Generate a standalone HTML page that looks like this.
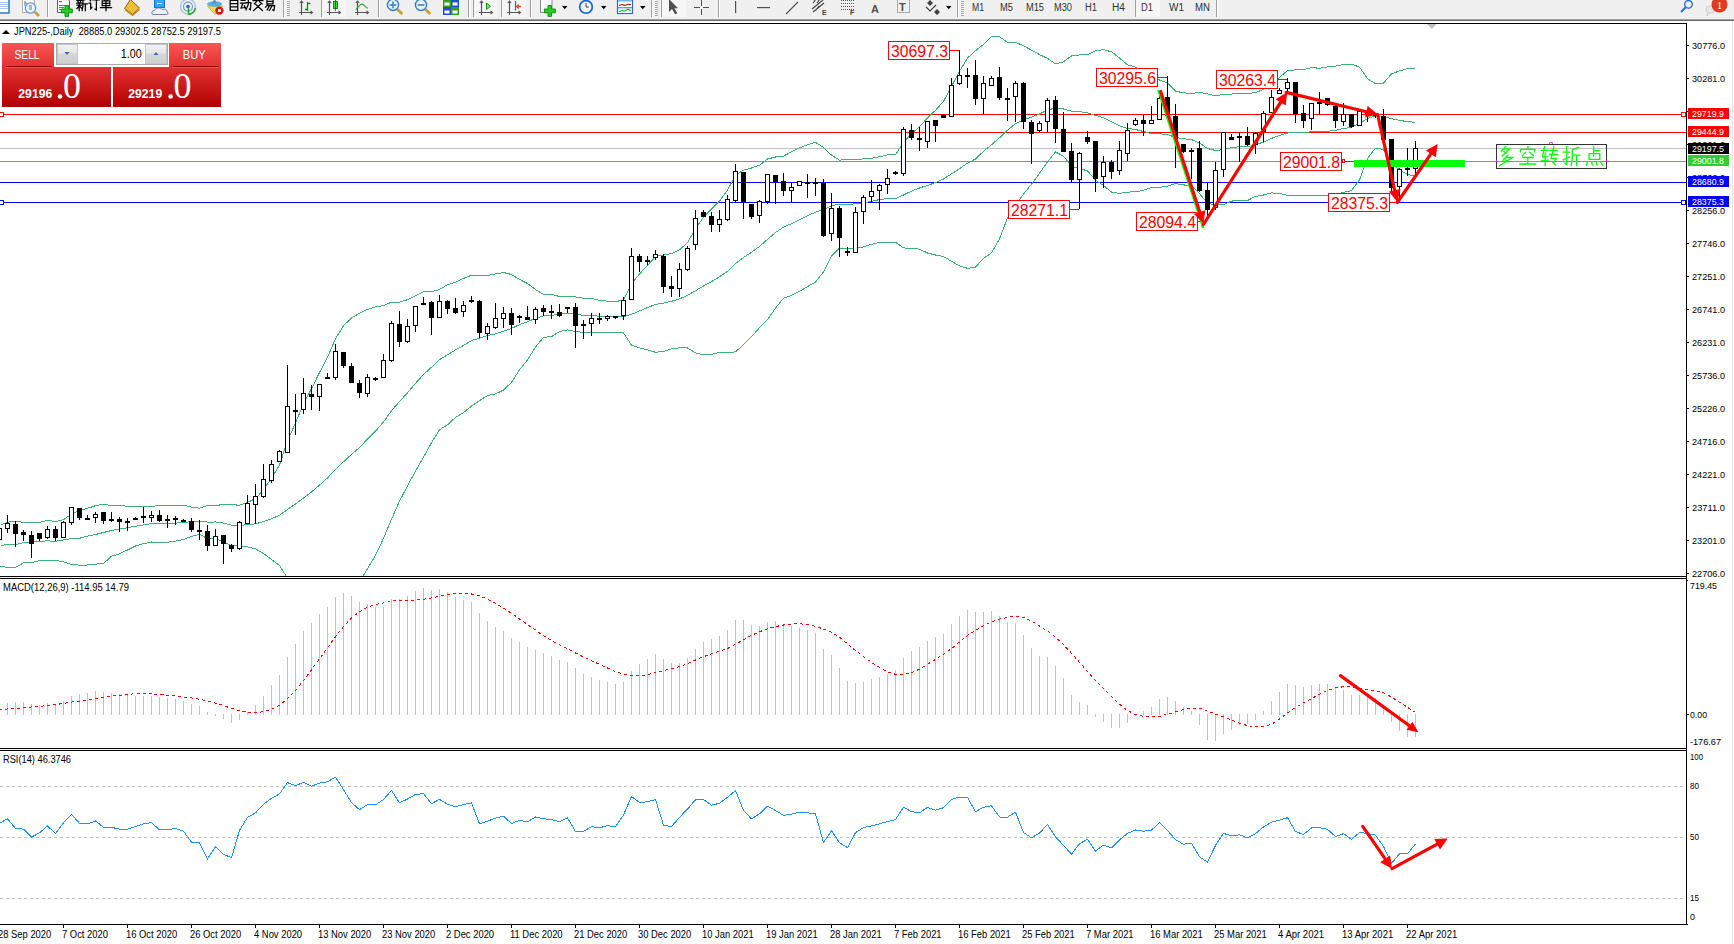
<!DOCTYPE html>
<html><head><meta charset="utf-8"><style>
html,body{margin:0;padding:0;background:#fff;width:1734px;height:944px;overflow:hidden}
</style></head><body>
<svg width="1734" height="944" viewBox="0 0 1734 944" style="position:absolute;left:0;top:0">
<defs><clipPath id="cm"><rect x="0" y="24" width="1686" height="552"/></clipPath><clipPath id="cmacd"><rect x="0" y="579" width="1686" height="169"/></clipPath><clipPath id="crsi"><rect x="0" y="751" width="1686" height="173"/></clipPath></defs>
<g shape-rendering="crispEdges" stroke="#000" stroke-width="1">
<line x1="0" y1="23.5" x2="1687" y2="23.5"/>
<line x1="1686.5" y1="23" x2="1686.5" y2="925"/>
<line x1="0" y1="576.5" x2="1687" y2="576.5"/>
<line x1="0" y1="578.5" x2="1687" y2="578.5"/>
<line x1="0" y1="748.5" x2="1687" y2="748.5"/>
<line x1="0" y1="750.5" x2="1687" y2="750.5"/>
<line x1="0" y1="924.5" x2="1687" y2="924.5"/>
</g>
<g clip-path="url(#cm)">
<g shape-rendering="crispEdges" fill="none" stroke-width="1">
<line x1="0" y1="114.5" x2="1686" y2="114.5" stroke="#ff0000"/>
<line x1="0" y1="132.5" x2="1686" y2="132.5" stroke="#ff0000"/>
<line x1="0" y1="148.5" x2="1686" y2="148.5" stroke="#c0c0c0"/>
<line x1="0" y1="161.5" x2="1686" y2="161.5" stroke="#32cd32"/>
<line x1="0" y1="182.5" x2="1686" y2="182.5" stroke="#0000ff"/>
<line x1="0" y1="202.5" x2="1686" y2="202.5" stroke="#0000ff"/>
<rect x="-0.5" y="112.5" width="4" height="4" fill="#fff" stroke="#ff0000"/>
<rect x="1681.5" y="112.5" width="4" height="4" fill="#fff" stroke="#ff0000"/>
<rect x="-0.5" y="200.5" width="4" height="4" fill="#fff" stroke="#0000ff"/>
<rect x="1681.5" y="200.5" width="4" height="4" fill="#fff" stroke="#0000ff"/>
</g>
<g shape-rendering="auto">
<polyline points="0.5,525.2 7.5,522.2 15.5,521.2 23.5,522.4 31.5,522.4 39.5,522.4 47.5,520.4 55.5,521.6 63.5,519.7 71.5,514.0 79.5,510.4 87.5,508.3 95.5,505.7 103.5,504.3 111.5,505.5 119.5,505.3 127.5,506.4 135.5,506.4 143.5,506.4 151.5,506.4 159.5,505.5 167.5,505.3 175.5,505.1 183.5,505.2 191.5,507.1 199.5,508.3 207.5,505.6 215.5,505.8 223.5,504.2 231.5,504.7 239.5,505.2 247.5,502.4 255.5,498.6 263.5,489.8 271.5,478.1 279.5,465.1 287.5,440.7 295.5,422.9 303.5,403.8 311.5,388.7 319.5,372.6 327.5,357.3 335.5,338.7 343.5,325.7 351.5,318.0 359.5,313.2 367.5,309.4 375.5,306.9 383.5,305.6 391.5,302.1 399.5,302.1 407.5,299.7 415.5,295.6 423.5,291.6 431.5,291.7 439.5,289.5 447.5,284.7 455.5,282.4 463.5,278.4 471.5,275.2 479.5,275.6 487.5,275.5 495.5,273.9 503.5,272.5 511.5,274.5 519.5,279.4 527.5,283.5 535.5,289.6 543.5,294.5 551.5,294.2 559.5,296.6 567.5,296.5 575.5,297.0 583.5,298.3 591.5,298.3 599.5,300.4 607.5,301.2 615.5,301.5 623.5,300.2 631.5,283.7 639.5,274.0 647.5,265.4 655.5,256.6 663.5,254.8 671.5,253.7 679.5,249.9 687.5,242.6 695.5,228.7 703.5,217.1 711.5,209.0 719.5,201.1 727.5,190.0 735.5,175.4 743.5,170.1 751.5,168.0 759.5,165.2 767.5,159.0 775.5,157.0 783.5,156.1 791.5,151.9 799.5,147.9 807.5,144.8 815.5,142.3 823.5,147.5 831.5,155.2 839.5,160.1 847.5,159.6 855.5,159.6 863.5,158.9 871.5,158.2 879.5,156.8 887.5,154.8 895.5,155.0 903.5,142.1 911.5,133.7 919.5,126.8 927.5,117.8 935.5,110.3 943.5,101.4 951.5,86.4 959.5,71.2 967.5,58.1 975.5,50.7 983.5,44.4 991.5,36.8 999.5,36.8 1007.5,42.3 1015.5,42.2 1023.5,45.8 1031.5,50.1 1039.5,54.6 1047.5,58.4 1055.5,63.8 1063.5,61.8 1071.5,55.9 1079.5,54.9 1087.5,54.6 1095.5,50.6 1103.5,49.7 1111.5,51.8 1119.5,58.0 1127.5,64.8 1135.5,67.1 1143.5,72.8 1151.5,79.8 1159.5,80.0 1167.5,82.8 1175.5,91.2 1183.5,92.8 1191.5,93.4 1199.5,92.4 1207.5,93.9 1215.5,96.0 1223.5,94.4 1231.5,94.1 1239.5,93.1 1247.5,93.3 1255.5,92.8 1263.5,89.2 1271.5,83.9 1279.5,77.4 1287.5,70.6 1295.5,69.9 1303.5,69.7 1311.5,67.7 1319.5,68.2 1327.5,67.0 1335.5,66.1 1343.5,64.6 1351.5,64.2 1359.5,67.1 1367.5,78.7 1375.5,83.7 1383.5,83.1 1391.5,73.9 1399.5,70.9 1407.5,68.7 1415.5,68.4" fill="none" stroke="#3cb371" stroke-width="1" shape-rendering="crispEdges" />
<polyline points="0.5,545.4 7.5,544.6 15.5,544.6 23.5,542.7 31.5,542.1 39.5,541.2 47.5,540.9 55.5,541.2 63.5,539.9 71.5,538.6 79.5,538.3 87.5,536.1 95.5,534.5 103.5,532.5 111.5,530.5 119.5,529.1 127.5,527.7 135.5,526.3 143.5,524.9 151.5,523.6 159.5,523.9 167.5,523.8 175.5,523.1 183.5,522.4 191.5,521.7 199.5,521.3 207.5,522.1 215.5,522.0 223.5,523.1 231.5,525.2 239.5,525.4 247.5,524.7 255.5,523.8 263.5,521.7 271.5,518.8 279.5,515.3 287.5,509.5 295.5,504.0 303.5,497.9 311.5,492.0 319.5,485.1 327.5,477.9 335.5,469.5 343.5,461.8 351.5,454.4 359.5,447.5 367.5,439.1 375.5,431.2 383.5,421.9 391.5,410.7 399.5,401.6 407.5,392.8 415.5,383.3 423.5,374.5 431.5,367.2 439.5,359.7 447.5,354.8 455.5,349.9 463.5,345.5 471.5,340.6 479.5,338.1 487.5,335.6 495.5,333.9 503.5,331.3 511.5,328.4 519.5,324.6 527.5,321.7 535.5,318.3 543.5,315.9 551.5,315.4 559.5,314.1 567.5,313.2 575.5,314.2 583.5,315.4 591.5,315.4 599.5,316.3 607.5,316.7 615.5,316.9 623.5,316.6 631.5,314.4 639.5,310.9 647.5,307.6 655.5,304.4 663.5,303.1 671.5,301.3 679.5,298.9 687.5,295.3 695.5,290.7 703.5,286.0 711.5,281.6 719.5,276.8 727.5,271.3 735.5,263.6 743.5,257.4 751.5,252.3 759.5,246.4 767.5,239.3 775.5,232.5 783.5,227.1 791.5,223.7 799.5,219.6 807.5,215.7 815.5,212.2 823.5,209.7 831.5,205.6 839.5,204.1 847.5,204.2 855.5,203.9 863.5,202.9 871.5,201.3 879.5,199.6 887.5,198.5 895.5,198.6 903.5,195.0 911.5,191.1 919.5,188.0 927.5,185.4 935.5,182.6 943.5,179.0 951.5,173.9 959.5,168.6 967.5,163.2 975.5,159.0 983.5,151.3 991.5,144.8 999.5,137.8 1007.5,130.2 1015.5,123.7 1023.5,120.0 1031.5,117.1 1039.5,114.0 1047.5,110.1 1055.5,107.9 1063.5,109.0 1071.5,111.1 1079.5,111.7 1087.5,112.7 1095.5,115.4 1103.5,117.6 1111.5,121.9 1119.5,125.7 1127.5,128.4 1135.5,129.5 1143.5,131.5 1151.5,133.6 1159.5,133.7 1167.5,134.6 1175.5,137.4 1183.5,138.8 1191.5,139.6 1199.5,143.0 1207.5,148.5 1215.5,150.5 1223.5,149.6 1231.5,147.6 1239.5,146.7 1247.5,146.9 1255.5,144.6 1263.5,142.1 1271.5,138.4 1279.5,135.4 1287.5,133.0 1295.5,132.7 1303.5,132.6 1311.5,131.7 1319.5,131.9 1327.5,131.3 1335.5,130.4 1343.5,128.5 1351.5,127.4 1359.5,123.4 1367.5,118.5 1375.5,115.9 1383.5,116.3 1391.5,118.7 1399.5,120.4 1407.5,121.6 1415.5,122.3" fill="none" stroke="#3cb371" stroke-width="1" shape-rendering="crispEdges" />
<polyline points="0.5,566.5 7.5,567.3 15.5,567.3 23.5,562.9 31.5,562.6 39.5,560.5 47.5,560.5 55.5,560.5 63.5,561.8 71.5,564.4 79.5,565.2 87.5,565.0 95.5,564.1 103.5,563.4 111.5,556.3 119.5,553.8 127.5,550.0 135.5,546.0 143.5,543.7 151.5,542.0 159.5,542.4 167.5,542.3 175.5,541.1 183.5,539.6 191.5,536.3 199.5,534.3 207.5,538.6 215.5,538.2 223.5,542.0 231.5,545.7 239.5,545.7 247.5,546.9 255.5,548.9 263.5,553.6 271.5,559.6 279.5,565.4 287.5,578.3 295.5,585.1 303.5,591.9 311.5,595.3 319.5,597.7 327.5,598.6 335.5,600.4 343.5,597.8 351.5,590.8 359.5,581.8 367.5,568.8 375.5,555.4 383.5,538.3 391.5,519.2 399.5,501.2 407.5,485.9 415.5,471.0 423.5,457.3 431.5,442.7 439.5,429.8 447.5,424.8 455.5,417.4 463.5,412.6 471.5,406.1 479.5,400.6 487.5,395.6 495.5,393.9 503.5,390.1 511.5,382.3 519.5,369.8 527.5,360.0 535.5,347.1 543.5,337.4 551.5,336.6 559.5,331.6 567.5,329.9 575.5,331.4 583.5,332.4 591.5,332.5 599.5,332.2 607.5,332.2 615.5,332.3 623.5,333.0 631.5,345.1 639.5,347.8 647.5,349.9 655.5,352.3 663.5,351.4 671.5,348.9 679.5,347.8 687.5,348.0 695.5,352.8 703.5,354.9 711.5,354.3 719.5,352.5 727.5,352.7 735.5,351.9 743.5,344.8 751.5,336.7 759.5,327.7 767.5,319.7 775.5,308.1 783.5,298.1 791.5,295.4 799.5,291.3 807.5,286.6 815.5,282.1 823.5,271.8 831.5,256.1 839.5,248.0 847.5,248.9 855.5,248.3 863.5,246.9 871.5,244.3 879.5,242.3 887.5,242.3 895.5,242.2 903.5,247.9 911.5,248.4 919.5,249.2 927.5,253.0 935.5,255.0 943.5,256.5 951.5,261.3 959.5,265.9 967.5,268.3 975.5,267.2 983.5,258.3 991.5,252.9 999.5,238.9 1007.5,218.0 1015.5,205.2 1023.5,194.2 1031.5,184.1 1039.5,173.4 1047.5,161.8 1055.5,151.9 1063.5,156.2 1071.5,166.2 1079.5,168.5 1087.5,170.9 1095.5,180.1 1103.5,185.5 1111.5,192.0 1119.5,193.4 1127.5,192.1 1135.5,191.8 1143.5,190.3 1151.5,187.4 1159.5,187.3 1167.5,186.3 1175.5,183.5 1183.5,184.9 1191.5,185.8 1199.5,193.6 1207.5,203.1 1215.5,205.1 1223.5,204.7 1231.5,201.1 1239.5,200.4 1247.5,200.5 1255.5,196.4 1263.5,195.0 1271.5,192.9 1279.5,193.4 1287.5,195.4 1295.5,195.4 1303.5,195.4 1311.5,195.6 1319.5,195.5 1327.5,195.6 1335.5,194.8 1343.5,192.4 1351.5,190.6 1359.5,179.8 1367.5,158.4 1375.5,148.1 1383.5,149.5 1391.5,163.5 1399.5,169.8 1407.5,174.5 1415.5,176.3" fill="none" stroke="#3cb371" stroke-width="1" shape-rendering="crispEdges" />
</g>
<g shape-rendering="crispEdges">
<rect x="-1" y="528" width="1" height="13" fill="#000"/>
<rect x="-2.5" y="528.5" width="4" height="11" fill="#fff" stroke="#000"/>
<rect x="7" y="515" width="1" height="18" fill="#000"/>
<rect x="5.5" y="523.5" width="4" height="5" fill="#fff" stroke="#000"/>
<rect x="15" y="521" width="1" height="26" fill="#000"/>
<rect x="13" y="524" width="5" height="10" fill="#000"/>
<rect x="23" y="530" width="1" height="11" fill="#000"/>
<rect x="21" y="532" width="5" height="3" fill="#000"/>
<rect x="31" y="531" width="1" height="27" fill="#000"/>
<rect x="29" y="535" width="5" height="9" fill="#000"/>
<rect x="39" y="533" width="1" height="8" fill="#000"/>
<rect x="37" y="533" width="5" height="6" fill="#000"/>
<rect x="47" y="526" width="1" height="13" fill="#000"/>
<rect x="45.5" y="529.5" width="4" height="8" fill="#fff" stroke="#000"/>
<rect x="55" y="526" width="1" height="15" fill="#000"/>
<rect x="53" y="529" width="5" height="9" fill="#000"/>
<rect x="63" y="521" width="1" height="17" fill="#000"/>
<rect x="61.5" y="522.5" width="4" height="15" fill="#fff" stroke="#000"/>
<rect x="71" y="507" width="1" height="18" fill="#000"/>
<rect x="69.5" y="507.5" width="4" height="15" fill="#fff" stroke="#000"/>
<rect x="79" y="508" width="1" height="12" fill="#000"/>
<rect x="77" y="508" width="5" height="10" fill="#000"/>
<rect x="87" y="515" width="1" height="5" fill="#000"/>
<rect x="85" y="518" width="5" height="2" fill="#000"/>
<rect x="95" y="512" width="1" height="11" fill="#000"/>
<rect x="93.5" y="514.5" width="4" height="3" fill="#fff" stroke="#000"/>
<rect x="103" y="512" width="1" height="12" fill="#000"/>
<rect x="101" y="512" width="5" height="9" fill="#000"/>
<rect x="111" y="512" width="1" height="10" fill="#000"/>
<rect x="109" y="519" width="5" height="2" fill="#000"/>
<rect x="119" y="517" width="1" height="15" fill="#000"/>
<rect x="117" y="519" width="5" height="3" fill="#000"/>
<rect x="127" y="518" width="1" height="13" fill="#000"/>
<rect x="125" y="521" width="5" height="2" fill="#000"/>
<rect x="135" y="517" width="1" height="3" fill="#000"/>
<rect x="133" y="518" width="5" height="2" fill="#000"/>
<rect x="143" y="507" width="1" height="16" fill="#000"/>
<rect x="141" y="516" width="5" height="2" fill="#000"/>
<rect x="151" y="511" width="1" height="11" fill="#000"/>
<rect x="149.5" y="515.5" width="4" height="2" fill="#fff" stroke="#000"/>
<rect x="159" y="510" width="1" height="12" fill="#000"/>
<rect x="157" y="515" width="5" height="6" fill="#000"/>
<rect x="167" y="515" width="1" height="13" fill="#000"/>
<rect x="165" y="519" width="5" height="2" fill="#000"/>
<rect x="175" y="516" width="1" height="9" fill="#000"/>
<rect x="173" y="518" width="5" height="2" fill="#000"/>
<rect x="183" y="519" width="1" height="3" fill="#000"/>
<rect x="181" y="520" width="5" height="2" fill="#000"/>
<rect x="191" y="518" width="1" height="14" fill="#000"/>
<rect x="189" y="521" width="5" height="9" fill="#000"/>
<rect x="199" y="520" width="1" height="20" fill="#000"/>
<rect x="197" y="530" width="5" height="2" fill="#000"/>
<rect x="207" y="525" width="1" height="26" fill="#000"/>
<rect x="205" y="531" width="5" height="15" fill="#000"/>
<rect x="215" y="529" width="1" height="17" fill="#000"/>
<rect x="213.5" y="536.5" width="4" height="9" fill="#fff" stroke="#000"/>
<rect x="223" y="535" width="1" height="29" fill="#000"/>
<rect x="221" y="535" width="5" height="9" fill="#000"/>
<rect x="231" y="544" width="1" height="8" fill="#000"/>
<rect x="229" y="545" width="5" height="4" fill="#000"/>
<rect x="239" y="521" width="1" height="29" fill="#000"/>
<rect x="237.5" y="522.5" width="4" height="26" fill="#fff" stroke="#000"/>
<rect x="247" y="495" width="1" height="29" fill="#000"/>
<rect x="245.5" y="503.5" width="4" height="20" fill="#fff" stroke="#000"/>
<rect x="255" y="484" width="1" height="40" fill="#000"/>
<rect x="253.5" y="496.5" width="4" height="8" fill="#fff" stroke="#000"/>
<rect x="263" y="464" width="1" height="34" fill="#000"/>
<rect x="261.5" y="479.5" width="4" height="17" fill="#fff" stroke="#000"/>
<rect x="271" y="460" width="1" height="23" fill="#000"/>
<rect x="269.5" y="464.5" width="4" height="16" fill="#fff" stroke="#000"/>
<rect x="279" y="450" width="1" height="12" fill="#000"/>
<rect x="277.5" y="451.5" width="4" height="10" fill="#fff" stroke="#000"/>
<rect x="287" y="365" width="1" height="88" fill="#000"/>
<rect x="285.5" y="406.5" width="4" height="46" fill="#fff" stroke="#000"/>
<rect x="295" y="394" width="1" height="41" fill="#000"/>
<rect x="293" y="410" width="5" height="2" fill="#000"/>
<rect x="303" y="378" width="1" height="36" fill="#000"/>
<rect x="301.5" y="393.5" width="4" height="16" fill="#fff" stroke="#000"/>
<rect x="311" y="385" width="1" height="25" fill="#000"/>
<rect x="309" y="394" width="5" height="3" fill="#000"/>
<rect x="319" y="384" width="1" height="27" fill="#000"/>
<rect x="317.5" y="384.5" width="4" height="12" fill="#fff" stroke="#000"/>
<rect x="327" y="373" width="1" height="6" fill="#000"/>
<rect x="325" y="377" width="5" height="2" fill="#000"/>
<rect x="335" y="344" width="1" height="36" fill="#000"/>
<rect x="333.5" y="351.5" width="4" height="26" fill="#fff" stroke="#000"/>
<rect x="343" y="352" width="1" height="16" fill="#000"/>
<rect x="341" y="352" width="5" height="14" fill="#000"/>
<rect x="351" y="363" width="1" height="20" fill="#000"/>
<rect x="349" y="366" width="5" height="17" fill="#000"/>
<rect x="359" y="380" width="1" height="18" fill="#000"/>
<rect x="357" y="383" width="5" height="10" fill="#000"/>
<rect x="367" y="374" width="1" height="23" fill="#000"/>
<rect x="365.5" y="377.5" width="4" height="16" fill="#fff" stroke="#000"/>
<rect x="375" y="377" width="1" height="4" fill="#000"/>
<rect x="373" y="378" width="5" height="2" fill="#000"/>
<rect x="383" y="354" width="1" height="24" fill="#000"/>
<rect x="381.5" y="360.5" width="4" height="17" fill="#fff" stroke="#000"/>
<rect x="391" y="321" width="1" height="41" fill="#000"/>
<rect x="389.5" y="323.5" width="4" height="37" fill="#fff" stroke="#000"/>
<rect x="399" y="311" width="1" height="36" fill="#000"/>
<rect x="397" y="324" width="5" height="18" fill="#000"/>
<rect x="407" y="319" width="1" height="24" fill="#000"/>
<rect x="405.5" y="326.5" width="4" height="15" fill="#fff" stroke="#000"/>
<rect x="415" y="306" width="1" height="26" fill="#000"/>
<rect x="413.5" y="306.5" width="4" height="19" fill="#fff" stroke="#000"/>
<rect x="423" y="297" width="1" height="7" fill="#000"/>
<rect x="421" y="303" width="5" height="2" fill="#000"/>
<rect x="431" y="301" width="1" height="34" fill="#000"/>
<rect x="429" y="302" width="5" height="16" fill="#000"/>
<rect x="439" y="295" width="1" height="23" fill="#000"/>
<rect x="437.5" y="301.5" width="4" height="16" fill="#fff" stroke="#000"/>
<rect x="447" y="300" width="1" height="14" fill="#000"/>
<rect x="445" y="301" width="5" height="8" fill="#000"/>
<rect x="455" y="298" width="1" height="16" fill="#000"/>
<rect x="453" y="308" width="5" height="5" fill="#000"/>
<rect x="463" y="301" width="1" height="16" fill="#000"/>
<rect x="461.5" y="305.5" width="4" height="6" fill="#fff" stroke="#000"/>
<rect x="471" y="296" width="1" height="7" fill="#000"/>
<rect x="469" y="300" width="5" height="2" fill="#000"/>
<rect x="479" y="300" width="1" height="38" fill="#000"/>
<rect x="477" y="301" width="5" height="32" fill="#000"/>
<rect x="487" y="323" width="1" height="17" fill="#000"/>
<rect x="485.5" y="326.5" width="4" height="7" fill="#fff" stroke="#000"/>
<rect x="495" y="303" width="1" height="26" fill="#000"/>
<rect x="493.5" y="318.5" width="4" height="9" fill="#fff" stroke="#000"/>
<rect x="503" y="307" width="1" height="21" fill="#000"/>
<rect x="501.5" y="313.5" width="4" height="5" fill="#fff" stroke="#000"/>
<rect x="511" y="308" width="1" height="27" fill="#000"/>
<rect x="509" y="313" width="5" height="12" fill="#000"/>
<rect x="519" y="315" width="1" height="8" fill="#000"/>
<rect x="517" y="316" width="5" height="2" fill="#000"/>
<rect x="527" y="306" width="1" height="14" fill="#000"/>
<rect x="525" y="317" width="5" height="3" fill="#000"/>
<rect x="535" y="307" width="1" height="17" fill="#000"/>
<rect x="533.5" y="309.5" width="4" height="10" fill="#fff" stroke="#000"/>
<rect x="543" y="305" width="1" height="11" fill="#000"/>
<rect x="541" y="308" width="5" height="4" fill="#000"/>
<rect x="551" y="305" width="1" height="14" fill="#000"/>
<rect x="549" y="311" width="5" height="2" fill="#000"/>
<rect x="559" y="304" width="1" height="13" fill="#000"/>
<rect x="557" y="312" width="5" height="4" fill="#000"/>
<rect x="567" y="307" width="1" height="6" fill="#000"/>
<rect x="565" y="307" width="5" height="2" fill="#000"/>
<rect x="575" y="303" width="1" height="45" fill="#000"/>
<rect x="573" y="307" width="5" height="19" fill="#000"/>
<rect x="583" y="320" width="1" height="19" fill="#000"/>
<rect x="581" y="324" width="5" height="2" fill="#000"/>
<rect x="591" y="313" width="1" height="23" fill="#000"/>
<rect x="589.5" y="318.5" width="4" height="5" fill="#fff" stroke="#000"/>
<rect x="599" y="313" width="1" height="11" fill="#000"/>
<rect x="597" y="318" width="5" height="2" fill="#000"/>
<rect x="607" y="315" width="1" height="6" fill="#000"/>
<rect x="605.5" y="316.5" width="4" height="2" fill="#fff" stroke="#000"/>
<rect x="615" y="316" width="1" height="3" fill="#000"/>
<rect x="613" y="316" width="5" height="2" fill="#000"/>
<rect x="623" y="297" width="1" height="23" fill="#000"/>
<rect x="621.5" y="300.5" width="4" height="15" fill="#fff" stroke="#000"/>
<rect x="631" y="248" width="1" height="52" fill="#000"/>
<rect x="629.5" y="256.5" width="4" height="43" fill="#fff" stroke="#000"/>
<rect x="639" y="254" width="1" height="18" fill="#000"/>
<rect x="637" y="256" width="5" height="6" fill="#000"/>
<rect x="647" y="256" width="1" height="9" fill="#000"/>
<rect x="645" y="260" width="5" height="2" fill="#000"/>
<rect x="655" y="250" width="1" height="10" fill="#000"/>
<rect x="653.5" y="254.5" width="4" height="3" fill="#fff" stroke="#000"/>
<rect x="663" y="254" width="1" height="39" fill="#000"/>
<rect x="661" y="256" width="5" height="31" fill="#000"/>
<rect x="671" y="276" width="1" height="21" fill="#000"/>
<rect x="669" y="286" width="5" height="3" fill="#000"/>
<rect x="679" y="263" width="1" height="34" fill="#000"/>
<rect x="677.5" y="269.5" width="4" height="19" fill="#fff" stroke="#000"/>
<rect x="687" y="246" width="1" height="25" fill="#000"/>
<rect x="685.5" y="248.5" width="4" height="21" fill="#fff" stroke="#000"/>
<rect x="695" y="210" width="1" height="40" fill="#000"/>
<rect x="693.5" y="218.5" width="4" height="26" fill="#fff" stroke="#000"/>
<rect x="703" y="210" width="1" height="7" fill="#000"/>
<rect x="701" y="212" width="5" height="5" fill="#000"/>
<rect x="711" y="212" width="1" height="20" fill="#000"/>
<rect x="709" y="216" width="5" height="9" fill="#000"/>
<rect x="719" y="210" width="1" height="22" fill="#000"/>
<rect x="717.5" y="219.5" width="4" height="5" fill="#fff" stroke="#000"/>
<rect x="727" y="195" width="1" height="26" fill="#000"/>
<rect x="725.5" y="199.5" width="4" height="20" fill="#fff" stroke="#000"/>
<rect x="735" y="164" width="1" height="39" fill="#000"/>
<rect x="733.5" y="171.5" width="4" height="29" fill="#fff" stroke="#000"/>
<rect x="743" y="172" width="1" height="47" fill="#000"/>
<rect x="741" y="172" width="5" height="30" fill="#000"/>
<rect x="751" y="204" width="1" height="15" fill="#000"/>
<rect x="749" y="204" width="5" height="13" fill="#000"/>
<rect x="759" y="200" width="1" height="23" fill="#000"/>
<rect x="757.5" y="201.5" width="4" height="14" fill="#fff" stroke="#000"/>
<rect x="767" y="174" width="1" height="30" fill="#000"/>
<rect x="765.5" y="174.5" width="4" height="27" fill="#fff" stroke="#000"/>
<rect x="775" y="175" width="1" height="29" fill="#000"/>
<rect x="773" y="175" width="5" height="7" fill="#000"/>
<rect x="783" y="173" width="1" height="23" fill="#000"/>
<rect x="781" y="181" width="5" height="10" fill="#000"/>
<rect x="791" y="183" width="1" height="20" fill="#000"/>
<rect x="789.5" y="187.5" width="4" height="3" fill="#fff" stroke="#000"/>
<rect x="799" y="181" width="1" height="5" fill="#000"/>
<rect x="797.5" y="181.5" width="4" height="4" fill="#fff" stroke="#000"/>
<rect x="807" y="174" width="1" height="24" fill="#000"/>
<rect x="805" y="182" width="5" height="2" fill="#000"/>
<rect x="815" y="178" width="1" height="18" fill="#000"/>
<rect x="813" y="182" width="5" height="2" fill="#000"/>
<rect x="823" y="179" width="1" height="58" fill="#000"/>
<rect x="821" y="183" width="5" height="53" fill="#000"/>
<rect x="831" y="193" width="1" height="48" fill="#000"/>
<rect x="829.5" y="208.5" width="4" height="25" fill="#fff" stroke="#000"/>
<rect x="839" y="206" width="1" height="51" fill="#000"/>
<rect x="837" y="208" width="5" height="30" fill="#000"/>
<rect x="847" y="247" width="1" height="9" fill="#000"/>
<rect x="845" y="251" width="5" height="2" fill="#000"/>
<rect x="855" y="207" width="1" height="46" fill="#000"/>
<rect x="853.5" y="212.5" width="4" height="40" fill="#fff" stroke="#000"/>
<rect x="863" y="195" width="1" height="29" fill="#000"/>
<rect x="861.5" y="197.5" width="4" height="14" fill="#fff" stroke="#000"/>
<rect x="871" y="180" width="1" height="22" fill="#000"/>
<rect x="869.5" y="191.5" width="4" height="5" fill="#fff" stroke="#000"/>
<rect x="879" y="184" width="1" height="26" fill="#000"/>
<rect x="877.5" y="185.5" width="4" height="5" fill="#fff" stroke="#000"/>
<rect x="887" y="169" width="1" height="25" fill="#000"/>
<rect x="885.5" y="178.5" width="4" height="6" fill="#fff" stroke="#000"/>
<rect x="895" y="171" width="1" height="4" fill="#000"/>
<rect x="893" y="172" width="5" height="2" fill="#000"/>
<rect x="903" y="127" width="1" height="49" fill="#000"/>
<rect x="901.5" y="129.5" width="4" height="44" fill="#fff" stroke="#000"/>
<rect x="911" y="124" width="1" height="16" fill="#000"/>
<rect x="909" y="130" width="5" height="8" fill="#000"/>
<rect x="919" y="127" width="1" height="24" fill="#000"/>
<rect x="917" y="138" width="5" height="2" fill="#000"/>
<rect x="927" y="121" width="1" height="27" fill="#000"/>
<rect x="925.5" y="121.5" width="4" height="20" fill="#fff" stroke="#000"/>
<rect x="935" y="120" width="1" height="22" fill="#000"/>
<rect x="933" y="120" width="5" height="6" fill="#000"/>
<rect x="943" y="114" width="1" height="4" fill="#000"/>
<rect x="941" y="115" width="5" height="3" fill="#000"/>
<rect x="951" y="78" width="1" height="39" fill="#000"/>
<rect x="949.5" y="85.5" width="4" height="31" fill="#fff" stroke="#000"/>
<rect x="959" y="50" width="1" height="35" fill="#000"/>
<rect x="957.5" y="75.5" width="4" height="8" fill="#fff" stroke="#000"/>
<rect x="967" y="68" width="1" height="20" fill="#000"/>
<rect x="965" y="75" width="5" height="2" fill="#000"/>
<rect x="975" y="60" width="1" height="45" fill="#000"/>
<rect x="973" y="75" width="5" height="24" fill="#000"/>
<rect x="983" y="76" width="1" height="38" fill="#000"/>
<rect x="981.5" y="83.5" width="4" height="15" fill="#fff" stroke="#000"/>
<rect x="991" y="76" width="1" height="10" fill="#000"/>
<rect x="989.5" y="78.5" width="4" height="7" fill="#fff" stroke="#000"/>
<rect x="999" y="67" width="1" height="33" fill="#000"/>
<rect x="997" y="77" width="5" height="21" fill="#000"/>
<rect x="1007" y="88" width="1" height="33" fill="#000"/>
<rect x="1005" y="98" width="5" height="2" fill="#000"/>
<rect x="1015" y="81" width="1" height="41" fill="#000"/>
<rect x="1013.5" y="83.5" width="4" height="13" fill="#fff" stroke="#000"/>
<rect x="1023" y="82" width="1" height="47" fill="#000"/>
<rect x="1021" y="83" width="5" height="39" fill="#000"/>
<rect x="1031" y="120" width="1" height="44" fill="#000"/>
<rect x="1029" y="122" width="5" height="12" fill="#000"/>
<rect x="1039" y="121" width="1" height="11" fill="#000"/>
<rect x="1037.5" y="123.5" width="4" height="7" fill="#fff" stroke="#000"/>
<rect x="1047" y="98" width="1" height="34" fill="#000"/>
<rect x="1045.5" y="100.5" width="4" height="21" fill="#fff" stroke="#000"/>
<rect x="1055" y="96" width="1" height="47" fill="#000"/>
<rect x="1053" y="100" width="5" height="29" fill="#000"/>
<rect x="1063" y="112" width="1" height="40" fill="#000"/>
<rect x="1061" y="129" width="5" height="23" fill="#000"/>
<rect x="1071" y="143" width="1" height="39" fill="#000"/>
<rect x="1069" y="151" width="5" height="29" fill="#000"/>
<rect x="1079" y="152" width="1" height="57" fill="#000"/>
<rect x="1077.5" y="153.5" width="4" height="26" fill="#fff" stroke="#000"/>
<rect x="1087" y="131" width="1" height="13" fill="#000"/>
<rect x="1085" y="137" width="5" height="5" fill="#000"/>
<rect x="1095" y="141" width="1" height="51" fill="#000"/>
<rect x="1093" y="141" width="5" height="38" fill="#000"/>
<rect x="1103" y="156" width="1" height="32" fill="#000"/>
<rect x="1101.5" y="162.5" width="4" height="14" fill="#fff" stroke="#000"/>
<rect x="1111" y="160" width="1" height="19" fill="#000"/>
<rect x="1109" y="162" width="5" height="10" fill="#000"/>
<rect x="1119" y="141" width="1" height="34" fill="#000"/>
<rect x="1117.5" y="150.5" width="4" height="20" fill="#fff" stroke="#000"/>
<rect x="1127" y="123" width="1" height="38" fill="#000"/>
<rect x="1125.5" y="130.5" width="4" height="23" fill="#fff" stroke="#000"/>
<rect x="1135" y="118" width="1" height="8" fill="#000"/>
<rect x="1133.5" y="120.5" width="4" height="4" fill="#fff" stroke="#000"/>
<rect x="1143" y="115" width="1" height="21" fill="#000"/>
<rect x="1141" y="120" width="5" height="4" fill="#000"/>
<rect x="1151" y="106" width="1" height="18" fill="#000"/>
<rect x="1149.5" y="120.5" width="4" height="3" fill="#fff" stroke="#000"/>
<rect x="1159" y="91" width="1" height="29" fill="#000"/>
<rect x="1157.5" y="98.5" width="4" height="21" fill="#fff" stroke="#000"/>
<rect x="1167" y="76" width="1" height="41" fill="#000"/>
<rect x="1165" y="97" width="5" height="19" fill="#000"/>
<rect x="1175" y="104" width="1" height="64" fill="#000"/>
<rect x="1173" y="116" width="5" height="23" fill="#000"/>
<rect x="1183" y="144" width="1" height="9" fill="#000"/>
<rect x="1181" y="144" width="5" height="8" fill="#000"/>
<rect x="1191" y="148" width="1" height="31" fill="#000"/>
<rect x="1189" y="150" width="5" height="2" fill="#000"/>
<rect x="1199" y="141" width="1" height="51" fill="#000"/>
<rect x="1197" y="148" width="5" height="43" fill="#000"/>
<rect x="1207" y="183" width="1" height="37" fill="#000"/>
<rect x="1205" y="190" width="5" height="20" fill="#000"/>
<rect x="1215" y="162" width="1" height="48" fill="#000"/>
<rect x="1213.5" y="170.5" width="4" height="37" fill="#fff" stroke="#000"/>
<rect x="1223" y="132" width="1" height="45" fill="#000"/>
<rect x="1221.5" y="132.5" width="4" height="37" fill="#fff" stroke="#000"/>
<rect x="1231" y="134" width="1" height="6" fill="#000"/>
<rect x="1229" y="137" width="5" height="3" fill="#000"/>
<rect x="1239" y="132" width="1" height="30" fill="#000"/>
<rect x="1237" y="136" width="5" height="2" fill="#000"/>
<rect x="1247" y="127" width="1" height="19" fill="#000"/>
<rect x="1245" y="136" width="5" height="9" fill="#000"/>
<rect x="1255" y="132" width="1" height="22" fill="#000"/>
<rect x="1253.5" y="133.5" width="4" height="11" fill="#fff" stroke="#000"/>
<rect x="1263" y="111" width="1" height="31" fill="#000"/>
<rect x="1261.5" y="113.5" width="4" height="18" fill="#fff" stroke="#000"/>
<rect x="1271" y="90" width="1" height="23" fill="#000"/>
<rect x="1269.5" y="97.5" width="4" height="15" fill="#fff" stroke="#000"/>
<rect x="1279" y="88" width="1" height="6" fill="#000"/>
<rect x="1277.5" y="90.5" width="4" height="3" fill="#fff" stroke="#000"/>
<rect x="1287" y="78" width="1" height="14" fill="#000"/>
<rect x="1285.5" y="82.5" width="4" height="6" fill="#fff" stroke="#000"/>
<rect x="1295" y="82" width="1" height="41" fill="#000"/>
<rect x="1293" y="82" width="5" height="32" fill="#000"/>
<rect x="1303" y="105" width="1" height="23" fill="#000"/>
<rect x="1301" y="113" width="5" height="8" fill="#000"/>
<rect x="1311" y="103" width="1" height="27" fill="#000"/>
<rect x="1309.5" y="103.5" width="4" height="15" fill="#fff" stroke="#000"/>
<rect x="1319" y="92" width="1" height="22" fill="#000"/>
<rect x="1317" y="102" width="5" height="2" fill="#000"/>
<rect x="1327" y="98" width="1" height="8" fill="#000"/>
<rect x="1325" y="98" width="5" height="7" fill="#000"/>
<rect x="1335" y="106" width="1" height="22" fill="#000"/>
<rect x="1333" y="106" width="5" height="15" fill="#000"/>
<rect x="1343" y="103" width="1" height="23" fill="#000"/>
<rect x="1341.5" y="114.5" width="4" height="7" fill="#fff" stroke="#000"/>
<rect x="1351" y="114" width="1" height="14" fill="#000"/>
<rect x="1349" y="114" width="5" height="13" fill="#000"/>
<rect x="1359" y="109" width="1" height="17" fill="#000"/>
<rect x="1357.5" y="111.5" width="4" height="14" fill="#fff" stroke="#000"/>
<rect x="1367" y="110" width="1" height="12" fill="#000"/>
<rect x="1365" y="112" width="5" height="2" fill="#000"/>
<rect x="1375" y="113" width="1" height="5" fill="#000"/>
<rect x="1373" y="113" width="5" height="3" fill="#000"/>
<rect x="1383" y="109" width="1" height="31" fill="#000"/>
<rect x="1381" y="116" width="5" height="24" fill="#000"/>
<rect x="1391" y="139" width="1" height="55" fill="#000"/>
<rect x="1389" y="139" width="5" height="49" fill="#000"/>
<rect x="1399" y="168" width="1" height="34" fill="#000"/>
<rect x="1397.5" y="169.5" width="4" height="17" fill="#fff" stroke="#000"/>
<rect x="1407" y="148" width="1" height="28" fill="#000"/>
<rect x="1405" y="168" width="5" height="2" fill="#000"/>
<rect x="1415" y="141" width="1" height="36" fill="#000"/>
<rect x="1413.5" y="148.5" width="4" height="20" fill="#fff" stroke="#000"/>
</g>
</g>
<g clip-path="url(#cmacd)">
<g shape-rendering="crispEdges" fill="#c0c0c0">
<rect x="-1" y="707" width="1" height="8"/>
<rect x="7" y="703" width="1" height="12"/>
<rect x="15" y="702" width="1" height="13"/>
<rect x="23" y="702" width="1" height="13"/>
<rect x="31" y="704" width="1" height="11"/>
<rect x="39" y="705" width="1" height="10"/>
<rect x="47" y="703" width="1" height="12"/>
<rect x="55" y="704" width="1" height="11"/>
<rect x="63" y="701" width="1" height="14"/>
<rect x="71" y="696" width="1" height="19"/>
<rect x="79" y="694" width="1" height="21"/>
<rect x="87" y="693" width="1" height="22"/>
<rect x="95" y="691" width="1" height="24"/>
<rect x="103" y="692" width="1" height="23"/>
<rect x="111" y="693" width="1" height="22"/>
<rect x="119" y="694" width="1" height="21"/>
<rect x="127" y="695" width="1" height="20"/>
<rect x="135" y="696" width="1" height="19"/>
<rect x="143" y="696" width="1" height="19"/>
<rect x="151" y="696" width="1" height="19"/>
<rect x="159" y="697" width="1" height="18"/>
<rect x="167" y="698" width="1" height="17"/>
<rect x="175" y="699" width="1" height="16"/>
<rect x="183" y="701" width="1" height="14"/>
<rect x="191" y="704" width="1" height="11"/>
<rect x="199" y="706" width="1" height="9"/>
<rect x="207" y="712" width="1" height="3"/>
<rect x="215" y="714" width="1" height="2"/>
<rect x="223" y="714" width="1" height="5"/>
<rect x="231" y="714" width="1" height="9"/>
<rect x="239" y="714" width="1" height="6"/>
<rect x="247" y="712" width="1" height="3"/>
<rect x="255" y="705" width="1" height="10"/>
<rect x="263" y="696" width="1" height="19"/>
<rect x="271" y="685" width="1" height="30"/>
<rect x="279" y="675" width="1" height="40"/>
<rect x="287" y="657" width="1" height="58"/>
<rect x="295" y="644" width="1" height="71"/>
<rect x="303" y="631" width="1" height="84"/>
<rect x="311" y="623" width="1" height="92"/>
<rect x="319" y="614" width="1" height="101"/>
<rect x="327" y="607" width="1" height="108"/>
<rect x="335" y="597" width="1" height="118"/>
<rect x="343" y="593" width="1" height="122"/>
<rect x="351" y="596" width="1" height="119"/>
<rect x="359" y="602" width="1" height="113"/>
<rect x="367" y="604" width="1" height="111"/>
<rect x="375" y="607" width="1" height="108"/>
<rect x="383" y="607" width="1" height="108"/>
<rect x="391" y="599" width="1" height="116"/>
<rect x="399" y="599" width="1" height="116"/>
<rect x="407" y="596" width="1" height="119"/>
<rect x="415" y="591" width="1" height="124"/>
<rect x="423" y="588" width="1" height="127"/>
<rect x="431" y="590" width="1" height="125"/>
<rect x="439" y="589" width="1" height="126"/>
<rect x="447" y="592" width="1" height="123"/>
<rect x="455" y="597" width="1" height="118"/>
<rect x="463" y="600" width="1" height="115"/>
<rect x="471" y="602" width="1" height="113"/>
<rect x="479" y="613" width="1" height="102"/>
<rect x="487" y="621" width="1" height="94"/>
<rect x="495" y="627" width="1" height="88"/>
<rect x="503" y="631" width="1" height="84"/>
<rect x="511" y="638" width="1" height="77"/>
<rect x="519" y="642" width="1" height="73"/>
<rect x="527" y="647" width="1" height="68"/>
<rect x="535" y="650" width="1" height="65"/>
<rect x="543" y="653" width="1" height="62"/>
<rect x="551" y="656" width="1" height="59"/>
<rect x="559" y="660" width="1" height="55"/>
<rect x="567" y="662" width="1" height="53"/>
<rect x="575" y="668" width="1" height="47"/>
<rect x="583" y="674" width="1" height="41"/>
<rect x="591" y="677" width="1" height="38"/>
<rect x="599" y="680" width="1" height="35"/>
<rect x="607" y="682" width="1" height="33"/>
<rect x="615" y="684" width="1" height="31"/>
<rect x="623" y="682" width="1" height="33"/>
<rect x="631" y="671" width="1" height="44"/>
<rect x="639" y="664" width="1" height="51"/>
<rect x="647" y="659" width="1" height="56"/>
<rect x="655" y="654" width="1" height="61"/>
<rect x="663" y="659" width="1" height="56"/>
<rect x="671" y="663" width="1" height="52"/>
<rect x="679" y="663" width="1" height="52"/>
<rect x="687" y="658" width="1" height="57"/>
<rect x="695" y="649" width="1" height="66"/>
<rect x="703" y="642" width="1" height="73"/>
<rect x="711" y="639" width="1" height="76"/>
<rect x="719" y="636" width="1" height="79"/>
<rect x="727" y="630" width="1" height="85"/>
<rect x="735" y="620" width="1" height="95"/>
<rect x="743" y="620" width="1" height="95"/>
<rect x="751" y="625" width="1" height="90"/>
<rect x="759" y="626" width="1" height="89"/>
<rect x="767" y="622" width="1" height="93"/>
<rect x="775" y="621" width="1" height="94"/>
<rect x="783" y="624" width="1" height="91"/>
<rect x="791" y="626" width="1" height="89"/>
<rect x="799" y="628" width="1" height="87"/>
<rect x="807" y="630" width="1" height="85"/>
<rect x="815" y="633" width="1" height="82"/>
<rect x="823" y="649" width="1" height="66"/>
<rect x="831" y="655" width="1" height="60"/>
<rect x="839" y="668" width="1" height="47"/>
<rect x="847" y="681" width="1" height="34"/>
<rect x="855" y="683" width="1" height="32"/>
<rect x="863" y="682" width="1" height="33"/>
<rect x="871" y="679" width="1" height="36"/>
<rect x="879" y="677" width="1" height="38"/>
<rect x="887" y="674" width="1" height="41"/>
<rect x="895" y="670" width="1" height="45"/>
<rect x="903" y="658" width="1" height="57"/>
<rect x="911" y="651" width="1" height="64"/>
<rect x="919" y="647" width="1" height="68"/>
<rect x="927" y="641" width="1" height="74"/>
<rect x="935" y="637" width="1" height="78"/>
<rect x="943" y="634" width="1" height="81"/>
<rect x="951" y="624" width="1" height="91"/>
<rect x="959" y="616" width="1" height="99"/>
<rect x="967" y="610" width="1" height="105"/>
<rect x="975" y="612" width="1" height="103"/>
<rect x="983" y="612" width="1" height="103"/>
<rect x="991" y="611" width="1" height="104"/>
<rect x="999" y="616" width="1" height="99"/>
<rect x="1007" y="622" width="1" height="93"/>
<rect x="1015" y="623" width="1" height="92"/>
<rect x="1023" y="635" width="1" height="80"/>
<rect x="1031" y="648" width="1" height="67"/>
<rect x="1039" y="656" width="1" height="59"/>
<rect x="1047" y="657" width="1" height="58"/>
<rect x="1055" y="666" width="1" height="49"/>
<rect x="1063" y="678" width="1" height="37"/>
<rect x="1071" y="695" width="1" height="20"/>
<rect x="1079" y="702" width="1" height="13"/>
<rect x="1087" y="705" width="1" height="10"/>
<rect x="1095" y="714" width="1" height="3"/>
<rect x="1103" y="714" width="1" height="8"/>
<rect x="1111" y="714" width="1" height="14"/>
<rect x="1119" y="714" width="1" height="14"/>
<rect x="1127" y="714" width="1" height="9"/>
<rect x="1135" y="714" width="1" height="2"/>
<rect x="1143" y="711" width="1" height="4"/>
<rect x="1151" y="707" width="1" height="8"/>
<rect x="1159" y="699" width="1" height="16"/>
<rect x="1167" y="697" width="1" height="18"/>
<rect x="1175" y="701" width="1" height="14"/>
<rect x="1183" y="707" width="1" height="8"/>
<rect x="1191" y="711" width="1" height="4"/>
<rect x="1199" y="714" width="1" height="11"/>
<rect x="1207" y="714" width="1" height="26"/>
<rect x="1215" y="714" width="1" height="27"/>
<rect x="1223" y="714" width="1" height="20"/>
<rect x="1231" y="714" width="1" height="16"/>
<rect x="1239" y="714" width="1" height="11"/>
<rect x="1247" y="714" width="1" height="10"/>
<rect x="1255" y="714" width="1" height="6"/>
<rect x="1263" y="711" width="1" height="4"/>
<rect x="1271" y="701" width="1" height="14"/>
<rect x="1279" y="692" width="1" height="23"/>
<rect x="1287" y="684" width="1" height="31"/>
<rect x="1295" y="685" width="1" height="30"/>
<rect x="1303" y="687" width="1" height="28"/>
<rect x="1311" y="685" width="1" height="30"/>
<rect x="1319" y="684" width="1" height="31"/>
<rect x="1327" y="684" width="1" height="31"/>
<rect x="1335" y="688" width="1" height="27"/>
<rect x="1343" y="690" width="1" height="25"/>
<rect x="1351" y="695" width="1" height="20"/>
<rect x="1359" y="695" width="1" height="20"/>
<rect x="1367" y="696" width="1" height="19"/>
<rect x="1375" y="698" width="1" height="17"/>
<rect x="1383" y="705" width="1" height="10"/>
<rect x="1391" y="714" width="1" height="8"/>
<rect x="1399" y="714" width="1" height="17"/>
<rect x="1407" y="714" width="1" height="23"/>
<rect x="1415" y="714" width="1" height="23"/>
</g>
<polyline points="-0.5,709.1 7.5,709.0 15.5,708.8 23.5,707.8 31.5,707.0 39.5,706.4 47.5,705.5 55.5,704.6 63.5,703.4 71.5,702.1 79.5,701.1 87.5,700.0 95.5,698.9 103.5,697.5 111.5,696.2 119.5,695.3 127.5,694.3 135.5,693.8 143.5,693.8 151.5,694.0 159.5,694.5 167.5,695.2 175.5,696.0 183.5,696.9 191.5,698.0 199.5,699.2 207.5,701.0 215.5,703.1 223.5,705.6 231.5,708.4 239.5,710.7 247.5,712.1 255.5,712.6 263.5,711.8 271.5,709.4 279.5,705.3 287.5,698.8 295.5,690.6 303.5,680.4 311.5,669.7 319.5,658.8 327.5,647.9 335.5,636.8 343.5,626.6 351.5,617.8 359.5,611.7 367.5,607.3 375.5,604.6 383.5,602.9 391.5,601.2 399.5,600.4 407.5,600.3 415.5,600.1 423.5,599.2 431.5,597.9 439.5,596.3 447.5,594.7 455.5,593.5 463.5,593.6 471.5,594.0 479.5,595.8 487.5,599.1 495.5,603.4 503.5,607.9 511.5,613.3 519.5,618.9 527.5,624.5 535.5,630.1 543.5,635.7 551.5,640.5 559.5,644.9 567.5,648.8 575.5,653.0 583.5,657.0 591.5,660.8 599.5,664.4 607.5,668.0 615.5,671.5 623.5,674.4 631.5,675.6 639.5,675.8 647.5,674.8 655.5,672.6 663.5,670.6 671.5,668.7 679.5,666.6 687.5,663.8 695.5,660.0 703.5,656.7 711.5,653.9 719.5,651.3 727.5,648.6 735.5,644.3 743.5,639.6 751.5,635.4 759.5,631.8 767.5,628.8 775.5,626.6 783.5,625.0 791.5,623.9 799.5,623.7 807.5,624.8 815.5,626.3 823.5,629.0 831.5,632.2 839.5,637.3 847.5,643.9 855.5,650.5 863.5,656.6 871.5,662.3 879.5,667.5 887.5,671.9 895.5,674.3 903.5,674.6 911.5,672.8 919.5,669.1 927.5,664.3 935.5,659.4 943.5,654.3 951.5,648.5 959.5,642.0 967.5,635.4 975.5,630.3 983.5,625.8 991.5,621.8 999.5,619.1 1007.5,617.4 1015.5,616.3 1023.5,617.4 1031.5,621.0 1039.5,626.0 1047.5,631.1 1055.5,637.1 1063.5,644.6 1071.5,653.3 1079.5,662.3 1087.5,671.4 1095.5,680.4 1103.5,688.6 1111.5,696.6 1119.5,704.3 1127.5,710.5 1135.5,714.6 1143.5,716.4 1151.5,717.0 1159.5,716.3 1167.5,714.2 1175.5,711.9 1183.5,709.7 1191.5,708.0 1199.5,708.3 1207.5,710.9 1215.5,714.1 1223.5,716.9 1231.5,720.2 1239.5,723.2 1247.5,725.6 1255.5,726.9 1263.5,726.8 1271.5,724.3 1279.5,719.1 1287.5,712.8 1295.5,707.5 1303.5,702.9 1311.5,698.6 1319.5,694.3 1327.5,690.4 1335.5,687.9 1343.5,686.7 1351.5,687.0 1359.5,688.3 1367.5,689.6 1375.5,690.7 1383.5,692.9 1391.5,697.0 1399.5,702.1 1407.5,707.4 1415.5,712.5" fill="none" stroke="#ff0000" stroke-width="1" shape-rendering="crispEdges" stroke-dasharray="3,3"/>
</g>
<g clip-path="url(#crsi)">
<g shape-rendering="crispEdges" stroke="#c0c0c0" stroke-dasharray="3,3">
<line x1="0" y1="786.5" x2="1686" y2="786.5"/>
<line x1="0" y1="837.5" x2="1686" y2="837.5"/>
<line x1="0" y1="898.5" x2="1686" y2="898.5"/>
</g>
<polyline points="0.5,822.7 7.5,818.8 15.5,828.4 23.5,829.1 31.5,837.0 39.5,832.9 47.5,825.9 55.5,833.6 63.5,822.8 71.5,814.3 79.5,823.3 87.5,824.0 95.5,820.9 103.5,827.3 111.5,827.3 119.5,829.2 127.5,829.2 135.5,826.6 143.5,823.8 151.5,822.7 159.5,829.7 167.5,829.7 175.5,828.4 183.5,831.3 191.5,842.0 199.5,842.9 207.5,858.9 215.5,846.7 223.5,854.2 231.5,857.8 239.5,830.4 247.5,817.3 255.5,812.9 263.5,804.4 271.5,798.3 279.5,793.9 287.5,782.6 295.5,785.7 303.5,782.3 311.5,786.1 319.5,783.1 327.5,781.8 335.5,777.2 343.5,789.6 351.5,802.5 359.5,809.7 367.5,804.6 375.5,804.9 383.5,799.5 391.5,790.4 399.5,802.9 407.5,799.0 415.5,794.4 423.5,793.7 431.5,803.6 439.5,799.4 447.5,804.3 455.5,806.8 463.5,804.5 471.5,802.9 479.5,823.8 487.5,821.2 495.5,818.1 503.5,816.2 511.5,823.5 519.5,820.4 527.5,821.7 535.5,817.0 543.5,818.8 551.5,819.6 559.5,821.8 567.5,818.0 575.5,831.5 583.5,831.5 591.5,826.7 599.5,827.8 607.5,825.7 615.5,826.7 623.5,815.0 631.5,796.5 639.5,802.6 647.5,801.8 655.5,799.6 663.5,825.2 671.5,826.6 679.5,817.3 687.5,809.1 695.5,799.8 703.5,799.6 711.5,805.2 719.5,803.3 727.5,797.3 735.5,790.5 743.5,810.4 751.5,818.9 759.5,813.8 767.5,806.1 775.5,810.5 783.5,815.3 791.5,814.2 799.5,812.2 807.5,812.9 815.5,813.7 823.5,842.5 831.5,830.8 839.5,842.7 847.5,847.7 855.5,832.6 863.5,827.7 871.5,825.8 879.5,823.8 887.5,821.5 895.5,819.6 903.5,807.1 911.5,811.7 919.5,812.8 927.5,807.4 935.5,810.2 943.5,807.7 951.5,799.4 959.5,797.1 967.5,797.4 975.5,811.7 983.5,807.2 991.5,805.8 999.5,817.0 1007.5,817.1 1015.5,812.2 1023.5,832.6 1031.5,837.8 1039.5,833.0 1047.5,824.5 1055.5,836.8 1063.5,845.4 1071.5,854.3 1079.5,843.7 1087.5,839.4 1095.5,851.1 1103.5,845.1 1111.5,847.9 1119.5,840.0 1127.5,833.3 1135.5,830.0 1143.5,831.3 1151.5,830.1 1159.5,822.7 1167.5,830.5 1175.5,839.5 1183.5,844.3 1191.5,843.1 1199.5,856.8 1207.5,862.1 1215.5,845.4 1223.5,833.4 1231.5,835.8 1239.5,834.8 1247.5,837.8 1255.5,833.6 1263.5,827.0 1271.5,822.2 1279.5,820.1 1287.5,817.7 1295.5,831.6 1303.5,834.4 1311.5,828.0 1319.5,827.6 1327.5,829.3 1335.5,836.6 1343.5,833.6 1351.5,839.4 1359.5,832.5 1367.5,833.4 1375.5,835.2 1383.5,846.4 1391.5,863.4 1399.5,853.9 1407.5,853.9 1415.5,843.9" fill="none" stroke="#1e90ff" stroke-width="1" shape-rendering="crispEdges" />
</g>
<g shape-rendering="crispEdges" fill="#000">
<rect x="1687" y="45" width="2" height="1"/>
<rect x="1687" y="78" width="2" height="1"/>
<rect x="1687" y="111" width="2" height="1"/>
<rect x="1687" y="144" width="2" height="1"/>
<rect x="1687" y="177" width="2" height="1"/>
<rect x="1687" y="210" width="2" height="1"/>
<rect x="1687" y="243" width="2" height="1"/>
<rect x="1687" y="276" width="2" height="1"/>
<rect x="1687" y="309" width="2" height="1"/>
<rect x="1687" y="342" width="2" height="1"/>
<rect x="1687" y="375" width="2" height="1"/>
<rect x="1687" y="408" width="2" height="1"/>
<rect x="1687" y="441" width="2" height="1"/>
<rect x="1687" y="474" width="2" height="1"/>
<rect x="1687" y="507" width="2" height="1"/>
<rect x="1687" y="540" width="2" height="1"/>
<rect x="1687" y="573" width="2" height="1"/>
<rect x="1687" y="580" width="1" height="1"/>
<rect x="1687" y="714" width="2" height="1"/>
<rect x="1687" y="924" width="1" height="1"/>
</g>
<text x="1692" y="49" font-size="9.2" fill="#000" text-anchor="start" font-weight="normal" font-family="Liberation Sans, sans-serif" textLength="33" lengthAdjust="spacingAndGlyphs" >30776.0</text>
<text x="1692" y="82" font-size="9.2" fill="#000" text-anchor="start" font-weight="normal" font-family="Liberation Sans, sans-serif" textLength="33" lengthAdjust="spacingAndGlyphs" >30281.0</text>
<text x="1692" y="148" font-size="9.2" fill="#000" text-anchor="start" font-weight="normal" font-family="Liberation Sans, sans-serif" textLength="33" lengthAdjust="spacingAndGlyphs" >29261.0</text>
<text x="1692" y="181" font-size="9.2" fill="#000" text-anchor="start" font-weight="normal" font-family="Liberation Sans, sans-serif" textLength="33" lengthAdjust="spacingAndGlyphs" >28766.0</text>
<text x="1692" y="214" font-size="9.2" fill="#000" text-anchor="start" font-weight="normal" font-family="Liberation Sans, sans-serif" textLength="33" lengthAdjust="spacingAndGlyphs" >28256.0</text>
<text x="1692" y="247" font-size="9.2" fill="#000" text-anchor="start" font-weight="normal" font-family="Liberation Sans, sans-serif" textLength="33" lengthAdjust="spacingAndGlyphs" >27746.0</text>
<text x="1692" y="280" font-size="9.2" fill="#000" text-anchor="start" font-weight="normal" font-family="Liberation Sans, sans-serif" textLength="33" lengthAdjust="spacingAndGlyphs" >27251.0</text>
<text x="1692" y="313" font-size="9.2" fill="#000" text-anchor="start" font-weight="normal" font-family="Liberation Sans, sans-serif" textLength="33" lengthAdjust="spacingAndGlyphs" >26741.0</text>
<text x="1692" y="346" font-size="9.2" fill="#000" text-anchor="start" font-weight="normal" font-family="Liberation Sans, sans-serif" textLength="33" lengthAdjust="spacingAndGlyphs" >26231.0</text>
<text x="1692" y="379" font-size="9.2" fill="#000" text-anchor="start" font-weight="normal" font-family="Liberation Sans, sans-serif" textLength="33" lengthAdjust="spacingAndGlyphs" >25736.0</text>
<text x="1692" y="412" font-size="9.2" fill="#000" text-anchor="start" font-weight="normal" font-family="Liberation Sans, sans-serif" textLength="33" lengthAdjust="spacingAndGlyphs" >25226.0</text>
<text x="1692" y="445" font-size="9.2" fill="#000" text-anchor="start" font-weight="normal" font-family="Liberation Sans, sans-serif" textLength="33" lengthAdjust="spacingAndGlyphs" >24716.0</text>
<text x="1692" y="478" font-size="9.2" fill="#000" text-anchor="start" font-weight="normal" font-family="Liberation Sans, sans-serif" textLength="33" lengthAdjust="spacingAndGlyphs" >24221.0</text>
<text x="1692" y="511" font-size="9.2" fill="#000" text-anchor="start" font-weight="normal" font-family="Liberation Sans, sans-serif" textLength="33" lengthAdjust="spacingAndGlyphs" >23711.0</text>
<text x="1692" y="544" font-size="9.2" fill="#000" text-anchor="start" font-weight="normal" font-family="Liberation Sans, sans-serif" textLength="33" lengthAdjust="spacingAndGlyphs" >23201.0</text>
<text x="1692" y="577" font-size="9.2" fill="#000" text-anchor="start" font-weight="normal" font-family="Liberation Sans, sans-serif" textLength="33" lengthAdjust="spacingAndGlyphs" >22706.0</text>
<text x="1690" y="589" font-size="9.2" fill="#000" text-anchor="start" font-weight="normal" font-family="Liberation Sans, sans-serif" textLength="27" lengthAdjust="spacingAndGlyphs" >719.45</text>
<text x="1690" y="718" font-size="9.2" fill="#000" text-anchor="start" font-weight="normal" font-family="Liberation Sans, sans-serif" textLength="17" lengthAdjust="spacingAndGlyphs" >0.00</text>
<text x="1690" y="745" font-size="9.2" fill="#000" text-anchor="start" font-weight="normal" font-family="Liberation Sans, sans-serif" textLength="31" lengthAdjust="spacingAndGlyphs" >-176.67</text>
<text x="1690" y="760" font-size="9.2" fill="#000" text-anchor="start" font-weight="normal" font-family="Liberation Sans, sans-serif" textLength="13" lengthAdjust="spacingAndGlyphs" >100</text>
<text x="1690" y="789" font-size="9.2" fill="#000" text-anchor="start" font-weight="normal" font-family="Liberation Sans, sans-serif" textLength="9" lengthAdjust="spacingAndGlyphs" >80</text>
<text x="1690" y="840" font-size="9.2" fill="#000" text-anchor="start" font-weight="normal" font-family="Liberation Sans, sans-serif" textLength="9" lengthAdjust="spacingAndGlyphs" >50</text>
<text x="1690" y="901" font-size="9.2" fill="#000" text-anchor="start" font-weight="normal" font-family="Liberation Sans, sans-serif" textLength="9" lengthAdjust="spacingAndGlyphs" >15</text>
<text x="1690" y="920" font-size="9.2" fill="#000" text-anchor="start" font-weight="normal" font-family="Liberation Sans, sans-serif" textLength="5" lengthAdjust="spacingAndGlyphs" >0</text>
<rect x="1688" y="108" width="41" height="11" fill="#ff0000" shape-rendering="crispEdges"/>
<text x="1692" y="117" font-size="9.2" fill="#fff" text-anchor="start" font-weight="normal" font-family="Liberation Sans, sans-serif" textLength="32" lengthAdjust="spacingAndGlyphs" >29719.9</text>
<rect x="1688" y="126" width="41" height="11" fill="#ff0000" shape-rendering="crispEdges"/>
<text x="1692" y="135" font-size="9.2" fill="#fff" text-anchor="start" font-weight="normal" font-family="Liberation Sans, sans-serif" textLength="32" lengthAdjust="spacingAndGlyphs" >29444.9</text>
<rect x="1688" y="143" width="41" height="11" fill="#000000" shape-rendering="crispEdges"/>
<text x="1692" y="152" font-size="9.2" fill="#fff" text-anchor="start" font-weight="normal" font-family="Liberation Sans, sans-serif" textLength="32" lengthAdjust="spacingAndGlyphs" >29197.5</text>
<rect x="1688" y="155" width="41" height="11" fill="#32cd32" shape-rendering="crispEdges"/>
<text x="1692" y="164" font-size="9.2" fill="#fff" text-anchor="start" font-weight="normal" font-family="Liberation Sans, sans-serif" textLength="32" lengthAdjust="spacingAndGlyphs" >29001.8</text>
<rect x="1688" y="176" width="41" height="11" fill="#0000ff" shape-rendering="crispEdges"/>
<text x="1692" y="185" font-size="9.2" fill="#fff" text-anchor="start" font-weight="normal" font-family="Liberation Sans, sans-serif" textLength="32" lengthAdjust="spacingAndGlyphs" >28680.9</text>
<rect x="1688" y="196" width="41" height="11" fill="#0000ff" shape-rendering="crispEdges"/>
<text x="1692" y="205" font-size="9.2" fill="#fff" text-anchor="start" font-weight="normal" font-family="Liberation Sans, sans-serif" textLength="32" lengthAdjust="spacingAndGlyphs" >28375.3</text>
<g shape-rendering="crispEdges" fill="#000">
<rect x="-1" y="925" width="1" height="3"/>
<rect x="63" y="925" width="1" height="3"/>
<rect x="127" y="925" width="1" height="3"/>
<rect x="191" y="925" width="1" height="3"/>
<rect x="255" y="925" width="1" height="3"/>
<rect x="319" y="925" width="1" height="3"/>
<rect x="383" y="925" width="1" height="3"/>
<rect x="447" y="925" width="1" height="3"/>
<rect x="511" y="925" width="1" height="3"/>
<rect x="575" y="925" width="1" height="3"/>
<rect x="639" y="925" width="1" height="3"/>
<rect x="703" y="925" width="1" height="3"/>
<rect x="767" y="925" width="1" height="3"/>
<rect x="831" y="925" width="1" height="3"/>
<rect x="895" y="925" width="1" height="3"/>
<rect x="959" y="925" width="1" height="3"/>
<rect x="1023" y="925" width="1" height="3"/>
<rect x="1087" y="925" width="1" height="3"/>
<rect x="1151" y="925" width="1" height="3"/>
<rect x="1215" y="925" width="1" height="3"/>
<rect x="1279" y="925" width="1" height="3"/>
<rect x="1343" y="925" width="1" height="3"/>
<rect x="1407" y="925" width="1" height="3"/>
</g>
<text x="-2" y="938" font-size="10" fill="#000" text-anchor="start" font-weight="normal" font-family="Liberation Sans, sans-serif" textLength="53.3" lengthAdjust="spacingAndGlyphs" >28 Sep 2020</text>
<text x="62" y="938" font-size="10" fill="#000" text-anchor="start" font-weight="normal" font-family="Liberation Sans, sans-serif" textLength="46.0" lengthAdjust="spacingAndGlyphs" >7 Oct 2020</text>
<text x="126" y="938" font-size="10" fill="#000" text-anchor="start" font-weight="normal" font-family="Liberation Sans, sans-serif" textLength="51.2" lengthAdjust="spacingAndGlyphs" >16 Oct 2020</text>
<text x="190" y="938" font-size="10" fill="#000" text-anchor="start" font-weight="normal" font-family="Liberation Sans, sans-serif" textLength="51.2" lengthAdjust="spacingAndGlyphs" >26 Oct 2020</text>
<text x="254" y="938" font-size="10" fill="#000" text-anchor="start" font-weight="normal" font-family="Liberation Sans, sans-serif" textLength="48.1" lengthAdjust="spacingAndGlyphs" >4 Nov 2020</text>
<text x="318" y="938" font-size="10" fill="#000" text-anchor="start" font-weight="normal" font-family="Liberation Sans, sans-serif" textLength="53.3" lengthAdjust="spacingAndGlyphs" >13 Nov 2020</text>
<text x="382" y="938" font-size="10" fill="#000" text-anchor="start" font-weight="normal" font-family="Liberation Sans, sans-serif" textLength="53.3" lengthAdjust="spacingAndGlyphs" >23 Nov 2020</text>
<text x="446" y="938" font-size="10" fill="#000" text-anchor="start" font-weight="normal" font-family="Liberation Sans, sans-serif" textLength="48.1" lengthAdjust="spacingAndGlyphs" >2 Dec 2020</text>
<text x="510" y="938" font-size="10" fill="#000" text-anchor="start" font-weight="normal" font-family="Liberation Sans, sans-serif" textLength="52.6" lengthAdjust="spacingAndGlyphs" >11 Dec 2020</text>
<text x="574" y="938" font-size="10" fill="#000" text-anchor="start" font-weight="normal" font-family="Liberation Sans, sans-serif" textLength="53.3" lengthAdjust="spacingAndGlyphs" >21 Dec 2020</text>
<text x="638" y="938" font-size="10" fill="#000" text-anchor="start" font-weight="normal" font-family="Liberation Sans, sans-serif" textLength="53.3" lengthAdjust="spacingAndGlyphs" >30 Dec 2020</text>
<text x="702" y="938" font-size="10" fill="#000" text-anchor="start" font-weight="normal" font-family="Liberation Sans, sans-serif" textLength="51.7" lengthAdjust="spacingAndGlyphs" >10 Jan 2021</text>
<text x="766" y="938" font-size="10" fill="#000" text-anchor="start" font-weight="normal" font-family="Liberation Sans, sans-serif" textLength="51.7" lengthAdjust="spacingAndGlyphs" >19 Jan 2021</text>
<text x="830" y="938" font-size="10" fill="#000" text-anchor="start" font-weight="normal" font-family="Liberation Sans, sans-serif" textLength="51.7" lengthAdjust="spacingAndGlyphs" >28 Jan 2021</text>
<text x="894" y="938" font-size="10" fill="#000" text-anchor="start" font-weight="normal" font-family="Liberation Sans, sans-serif" textLength="47.6" lengthAdjust="spacingAndGlyphs" >7 Feb 2021</text>
<text x="958" y="938" font-size="10" fill="#000" text-anchor="start" font-weight="normal" font-family="Liberation Sans, sans-serif" textLength="52.8" lengthAdjust="spacingAndGlyphs" >16 Feb 2021</text>
<text x="1022" y="938" font-size="10" fill="#000" text-anchor="start" font-weight="normal" font-family="Liberation Sans, sans-serif" textLength="52.8" lengthAdjust="spacingAndGlyphs" >25 Feb 2021</text>
<text x="1086" y="938" font-size="10" fill="#000" text-anchor="start" font-weight="normal" font-family="Liberation Sans, sans-serif" textLength="47.6" lengthAdjust="spacingAndGlyphs" >7 Mar 2021</text>
<text x="1150" y="938" font-size="10" fill="#000" text-anchor="start" font-weight="normal" font-family="Liberation Sans, sans-serif" textLength="52.8" lengthAdjust="spacingAndGlyphs" >16 Mar 2021</text>
<text x="1214" y="938" font-size="10" fill="#000" text-anchor="start" font-weight="normal" font-family="Liberation Sans, sans-serif" textLength="52.8" lengthAdjust="spacingAndGlyphs" >25 Mar 2021</text>
<text x="1278" y="938" font-size="10" fill="#000" text-anchor="start" font-weight="normal" font-family="Liberation Sans, sans-serif" textLength="46.0" lengthAdjust="spacingAndGlyphs" >4 Apr 2021</text>
<text x="1342" y="938" font-size="10" fill="#000" text-anchor="start" font-weight="normal" font-family="Liberation Sans, sans-serif" textLength="51.2" lengthAdjust="spacingAndGlyphs" >13 Apr 2021</text>
<text x="1406" y="938" font-size="10" fill="#000" text-anchor="start" font-weight="normal" font-family="Liberation Sans, sans-serif" textLength="51.2" lengthAdjust="spacingAndGlyphs" >22 Apr 2021</text>
<path d="M2,34 L6,30 L10,34 Z" fill="#000"/>
<text x="14" y="35" font-size="10" fill="#000" text-anchor="start" font-weight="normal" font-family="Liberation Sans, sans-serif" textLength="207" lengthAdjust="spacingAndGlyphs" >JPN225-,Daily&#160;&#160;28885.0 29302.5 28752.5 29197.5</text>
<text x="3" y="591" font-size="10" fill="#000" text-anchor="start" font-weight="normal" font-family="Liberation Sans, sans-serif" textLength="126" lengthAdjust="spacingAndGlyphs" >MACD(12,26,9) -114.95 14.79</text>
<text x="3" y="763" font-size="10" fill="#000" text-anchor="start" font-weight="normal" font-family="Liberation Sans, sans-serif" textLength="68" lengthAdjust="spacingAndGlyphs" >RSI(14) 46.3746</text>
<path d="M1427,24 L1436.5,24 L1431.8,29 Z" fill="#c0c0c0"/>
<rect x="888.5" y="41.5" width="61" height="18" fill="#fff" stroke="#ff0000" shape-rendering="crispEdges"/>
<rect x="950" y="50" width="9" height="1" fill="#ff0000" shape-rendering="crispEdges"/>
<text x="891" y="57" font-size="16" fill="#ff0000" text-anchor="start" font-weight="normal" font-family="Liberation Sans, sans-serif" textLength="57" lengthAdjust="spacingAndGlyphs" >30697.3</text>
<rect x="1096.5" y="68.5" width="61" height="18" fill="#fff" stroke="#ff0000" shape-rendering="crispEdges"/>
<rect x="1158" y="77" width="9" height="1" fill="#ff0000" shape-rendering="crispEdges"/>
<text x="1099" y="84" font-size="16" fill="#ff0000" text-anchor="start" font-weight="normal" font-family="Liberation Sans, sans-serif" textLength="57" lengthAdjust="spacingAndGlyphs" >30295.6</text>
<rect x="1216.5" y="70.5" width="61" height="18" fill="#fff" stroke="#ff0000" shape-rendering="crispEdges"/>
<rect x="1278" y="79" width="9" height="1" fill="#ff0000" shape-rendering="crispEdges"/>
<text x="1219" y="86" font-size="16" fill="#ff0000" text-anchor="start" font-weight="normal" font-family="Liberation Sans, sans-serif" textLength="57" lengthAdjust="spacingAndGlyphs" >30263.4</text>
<rect x="1008.5" y="200.5" width="61" height="18" fill="#fff" stroke="#ff0000" shape-rendering="crispEdges"/>
<rect x="1070" y="209" width="9" height="1" fill="#ff0000" shape-rendering="crispEdges"/>
<text x="1011" y="216" font-size="16" fill="#ff0000" text-anchor="start" font-weight="normal" font-family="Liberation Sans, sans-serif" textLength="57" lengthAdjust="spacingAndGlyphs" >28271.1</text>
<rect x="1136.5" y="212.5" width="61" height="18" fill="#fff" stroke="#ff0000" shape-rendering="crispEdges"/>
<rect x="1198" y="221" width="9" height="1" fill="#ff0000" shape-rendering="crispEdges"/>
<text x="1139" y="228" font-size="16" fill="#ff0000" text-anchor="start" font-weight="normal" font-family="Liberation Sans, sans-serif" textLength="57" lengthAdjust="spacingAndGlyphs" >28094.4</text>
<rect x="1328.5" y="193.5" width="61" height="18" fill="#fff" stroke="#ff0000" shape-rendering="crispEdges"/>
<rect x="1390" y="202" width="9" height="1" fill="#ff0000" shape-rendering="crispEdges"/>
<text x="1331" y="209" font-size="16" fill="#ff0000" text-anchor="start" font-weight="normal" font-family="Liberation Sans, sans-serif" textLength="57" lengthAdjust="spacingAndGlyphs" >28375.3</text>
<rect x="1280.5" y="152.5" width="61" height="18" fill="#fff" stroke="#ff0000" shape-rendering="crispEdges"/>
<text x="1283" y="168" font-size="16" fill="#ff0000" text-anchor="start" font-weight="normal" font-family="Liberation Sans, sans-serif" textLength="57" lengthAdjust="spacingAndGlyphs" >29001.8</text>
<rect x="1342.5" y="159.5" width="2" height="3" fill="#fff" stroke="#ff0000" shape-rendering="crispEdges"/>
<rect x="1345" y="161" width="9" height="1" fill="#ff0000" shape-rendering="crispEdges"/>
<rect x="1354" y="160" width="111" height="7" fill="#00ff00" shape-rendering="crispEdges"/>
<line x1="1158.2" y1="90" x2="1203.2" y2="228" stroke="#00ff00" stroke-width="2.2"/>
<line x1="1202" y1="227" x2="1282" y2="99" stroke="#00ff00" stroke-width="2.2"/>
<line x1="1160.7" y1="91.5" x2="1199.7066171679894" y2="212.08251677223876" stroke="#ff0000" stroke-width="3.2" stroke-linecap="round"/>
<path d="M1203.4,223.5 L1194.0,213.9 L1205.4,210.2 Z" fill="#ff0000"/>
<line x1="1203.4" y1="224.5" x2="1280.680834744093" y2="102.43875324768082" stroke="#ff0000" stroke-width="3.2" stroke-linecap="round"/>
<path d="M1287.1,92.3 L1285.8,105.6 L1275.6,99.2 Z" fill="#ff0000"/>
<line x1="1286.2" y1="92.4" x2="1366.3333163541067" y2="111.69135393709975" stroke="#ff0000" stroke-width="3.2" stroke-linecap="round"/>
<path d="M1378,114.5 L1364.9,117.5 L1367.7,105.9 Z" fill="#ff0000"/>
<line x1="1377.6" y1="114.5" x2="1394.664261846897" y2="190.29304119814722" stroke="#ff0000" stroke-width="3.2" stroke-linecap="round"/>
<path d="M1397.3,202 L1388.8,191.6 L1400.5,189.0 Z" fill="#ff0000"/>
<line x1="1397.3" y1="202.5" x2="1430.880895007345" y2="153.87419906114653" stroke="#ff0000" stroke-width="3.2" stroke-linecap="round"/>
<path d="M1437.7,144 L1435.8,157.3 L1425.9,150.5 Z" fill="#ff0000"/>
<line x1="1340.5" y1="675.6" x2="1409.5009400199408" y2="725.7341874856052" stroke="#ff0000" stroke-width="3.2" stroke-linecap="round"/>
<path d="M1418.4,732.2 L1406.6,729.8 L1412.4,721.7 Z" fill="#ff0000"/>
<line x1="1362.7" y1="826.4" x2="1385.1670551147888" y2="858.8353730838078" stroke="#ff0000" stroke-width="3.2" stroke-linecap="round"/>
<path d="M1392,868.7 L1380.2,862.3 L1390.1,855.4 Z" fill="#ff0000"/>
<line x1="1392" y1="868.7" x2="1437.158750633444" y2="844.1342882550565" stroke="#ff0000" stroke-width="3.2" stroke-linecap="round"/>
<path d="M1447.7,838.4 L1440.0,849.4 L1434.3,838.9 Z" fill="#ff0000"/>
<rect x="1496.5" y="144.5" width="110" height="24" fill="none" stroke="#333" shape-rendering="crispEdges"/>
<rect x="1496" y="160" width="1" height="2" fill="#ff00ff"/><rect x="1606" y="160" width="1" height="2" fill="#ff00ff"/>
<path d="M1549.5,144 V142.5 H1552.5 V144" fill="none" stroke="#ff40ff" stroke-width="1"/>
<rect x="0" y="0" width="1734" height="19" fill="#f0f0f0"/>
<rect x="0" y="19" width="1734" height="1" fill="#a0a0a0"/>
<rect x="0" y="20" width="1734" height="1" fill="#6a6a6a"/>
<rect x="0" y="21" width="1734" height="2" fill="#ffffff"/>
<rect x="47" y="0" width="1" height="17" fill="#a0a0a0"/><rect x="48" y="0" width="1" height="17" fill="#fff"/>
<rect x="283" y="0" width="1" height="17" fill="#a0a0a0"/><rect x="284" y="0" width="1" height="17" fill="#fff"/>
<rect x="287" y="1" width="3" height="1" fill="#a8a8a8"/>
<rect x="287" y="3" width="3" height="1" fill="#a8a8a8"/>
<rect x="287" y="5" width="3" height="1" fill="#a8a8a8"/>
<rect x="287" y="7" width="3" height="1" fill="#a8a8a8"/>
<rect x="287" y="9" width="3" height="1" fill="#a8a8a8"/>
<rect x="287" y="11" width="3" height="1" fill="#a8a8a8"/>
<rect x="287" y="13" width="3" height="1" fill="#a8a8a8"/>
<rect x="287" y="15" width="3" height="1" fill="#a8a8a8"/>
<rect x="321" y="0" width="1" height="17" fill="#a0a0a0"/><rect x="322" y="0" width="1" height="17" fill="#fff"/>
<rect x="378" y="0" width="1" height="17" fill="#a0a0a0"/><rect x="379" y="0" width="1" height="17" fill="#fff"/>
<rect x="468" y="0" width="1" height="17" fill="#a0a0a0"/><rect x="469" y="0" width="1" height="17" fill="#fff"/>
<rect x="473" y="0" width="1" height="17" fill="#a0a0a0"/><rect x="474" y="0" width="1" height="17" fill="#fff"/>
<rect x="501" y="0" width="1" height="17" fill="#a0a0a0"/><rect x="502" y="0" width="1" height="17" fill="#fff"/>
<rect x="530" y="0" width="1" height="17" fill="#a0a0a0"/><rect x="531" y="0" width="1" height="17" fill="#fff"/>
<rect x="651" y="0" width="1" height="17" fill="#a0a0a0"/><rect x="652" y="0" width="1" height="17" fill="#fff"/>
<rect x="655" y="1" width="3" height="1" fill="#a8a8a8"/>
<rect x="655" y="3" width="3" height="1" fill="#a8a8a8"/>
<rect x="655" y="5" width="3" height="1" fill="#a8a8a8"/>
<rect x="655" y="7" width="3" height="1" fill="#a8a8a8"/>
<rect x="655" y="9" width="3" height="1" fill="#a8a8a8"/>
<rect x="655" y="11" width="3" height="1" fill="#a8a8a8"/>
<rect x="655" y="13" width="3" height="1" fill="#a8a8a8"/>
<rect x="655" y="15" width="3" height="1" fill="#a8a8a8"/>
<rect x="661" y="0" width="1" height="17" fill="#a0a0a0"/><rect x="662" y="0" width="1" height="17" fill="#fff"/>
<rect x="718" y="0" width="1" height="17" fill="#a0a0a0"/><rect x="719" y="0" width="1" height="17" fill="#fff"/>
<rect x="957" y="0" width="1" height="17" fill="#a0a0a0"/><rect x="958" y="0" width="1" height="17" fill="#fff"/>
<rect x="961" y="1" width="3" height="1" fill="#a8a8a8"/>
<rect x="961" y="3" width="3" height="1" fill="#a8a8a8"/>
<rect x="961" y="5" width="3" height="1" fill="#a8a8a8"/>
<rect x="961" y="7" width="3" height="1" fill="#a8a8a8"/>
<rect x="961" y="9" width="3" height="1" fill="#a8a8a8"/>
<rect x="961" y="11" width="3" height="1" fill="#a8a8a8"/>
<rect x="961" y="13" width="3" height="1" fill="#a8a8a8"/>
<rect x="961" y="15" width="3" height="1" fill="#a8a8a8"/>
<rect x="1135" y="0" width="1" height="17" fill="#a0a0a0"/><rect x="1136" y="0" width="1" height="17" fill="#fff"/>
<rect x="1216" y="0" width="1" height="17" fill="#a0a0a0"/><rect x="1217" y="0" width="1" height="17" fill="#fff"/>
<rect x="322" y="0" width="24" height="17" fill="#f7f7f7"/>
<rect x="474" y="0" width="23" height="17" fill="#f7f7f7"/>
<rect x="502" y="0" width="24" height="17" fill="#f7f7f7"/>
<rect x="662" y="0" width="24" height="17" fill="#f7f7f7"/>
<rect x="1136" y="0" width="24" height="17" fill="#f7f7f7"/>
<rect x="-2" y="-3" width="11" height="16" fill="#fff" stroke="#3a7cc8" stroke-width="1.6"/>
<rect x="-1" y="2" width="9" height="1" fill="#a8c8f0"/>
<rect x="-1" y="4" width="9" height="1" fill="#a8c8f0"/>
<rect x="-1" y="6" width="9" height="1" fill="#a8c8f0"/>
<rect x="-1" y="8" width="9" height="1" fill="#a8c8f0"/>
<rect x="22.5" y="-2.5" width="12" height="15" fill="#fbfbfb" stroke="#b8b0a0"/>
<path d="M25,1 V6 M25,3 H27" stroke="#606060" stroke-width="0.8" fill="none"/>
<line x1="35" y1="12" x2="39" y2="16" stroke="#c8a030" stroke-width="2.6"/>
<circle cx="30.5" cy="8" r="5.2" fill="#e4f2fa" stroke="#6a9ad8" stroke-width="1.3"/>
<rect x="29" y="5" width="3" height="5" fill="#a8b8c8"/>
<path d="M57.5,-2.5 H66 L69.5,1 V12.5 H57.5 Z" fill="#fff" stroke="#606060"/>
<rect x="59" y="1" width="3" height="1.2" fill="#707070"/><rect x="59" y="5" width="7" height="1" fill="#707070"/><rect x="59" y="7" width="5" height="1" fill="#707070"/><rect x="59" y="9" width="3" height="1" fill="#707070"/>
<path d="M65,5.5 h3.5 v3.5 h3.8 v3.8 h-3.8 v3.6 h-3.5 v-3.6 h-3.6 v-3.8 h3.6 z" fill="#22d022" stroke="#0a8a0a" stroke-width="0.9"/>
<path d="M124.5,8.5 L130.5,-0.5 L139.5,8 L132.5,14.5 Z" fill="#e8c038" stroke="#a06010" stroke-width="1"/>
<path d="M125.5,10 L132.5,15.5 L139.5,9.5" fill="none" stroke="#c08020" stroke-width="1.2"/>
<rect x="154.5" y="-2.5" width="10" height="10" fill="#3aa0f0" stroke="#1a70c8"/><rect x="157" y="3" width="5" height="1" fill="#fff"/>
<path d="M153,14.5 C151,14 151.5,10.5 154.5,10.5 C155.5,7.5 160.5,7 162,9.5 C164.5,8.5 167.5,10 167,12 C168.5,12.5 168.5,14.5 166.5,14.5 Z" fill="#eef2fa" stroke="#6a80b0" stroke-width="1"/>
<circle cx="188" cy="6.6" r="7.5" fill="none" stroke="#9cc0d8" stroke-width="1.2"/>
<circle cx="188" cy="6.6" r="4.5" fill="none" stroke="#6a98d8" stroke-width="1.2"/>
<circle cx="188" cy="6.6" r="1.8" fill="#2a60c8"/>
<path d="M188.5,7 V14.5 M188.5,14.5 A8,8 0 0 0 195.5,8" fill="none" stroke="#20a830" stroke-width="1.4"/>
<path d="M207.5,6 L222.5,6 L215,14.5 Z" fill="#f4dc50" stroke="#c0a030" stroke-width="0.8"/>
<ellipse cx="214.5" cy="4" rx="7.5" ry="2.8" fill="#58b0e0"/><path d="M212,4 L214.5,-2 L217,4 Z" fill="#4a98d0"/>
<circle cx="219.4" cy="10.6" r="4.2" fill="#d81818"/><rect x="218" y="9.2" width="2.8" height="2.8" fill="#fff"/>
<path d="M301.5,1 V15 M299,12.5 H312.5" stroke="#555" stroke-width="1.2" fill="none"/>
<path d="M299.8,3 L301.5,1 L303.2,3 M310.5,10.8 L312.5,12.5 L310.5,14.2" stroke="#555" stroke-width="1.1" fill="none"/>
<path d="M307.5,2 V11 M307.5,3.5 H310.5 M307.5,9.5 H305" stroke="#109010" stroke-width="1.3" fill="none"/>
<path d="M329.5,1 V15 M327,12.5 H340.5" stroke="#555" stroke-width="1.2" fill="none"/>
<path d="M327.8,3 L329.5,1 L331.2,3 M338.5,10.8 L340.5,12.5 L338.5,14.2" stroke="#555" stroke-width="1.1" fill="none"/>
<rect x="333.5" y="1.5" width="4" height="7" fill="#40d040" stroke="#108010" stroke-width="0.9"/><path d="M335.5,-1 V11" stroke="#108010" stroke-width="0.9"/>
<path d="M357.5,1 V15 M355,12.5 H368.5" stroke="#555" stroke-width="1.2" fill="none"/>
<path d="M355.8,3 L357.5,1 L359.2,3 M366.5,10.8 L368.5,12.5 L366.5,14.2" stroke="#555" stroke-width="1.1" fill="none"/>
<path d="M356,9.6 C358.5,6.5 360.5,4 362,4.2 C364,4.5 365.5,7.5 368,8.3" stroke="#30a030" stroke-width="1.2" fill="none"/>
<line x1="397" y1="9" x2="402.3" y2="14" stroke="#c8a030" stroke-width="2.8"/>
<circle cx="393" cy="4.9" r="5.6" fill="#e0f4fc" stroke="#3a7ac8" stroke-width="1.4"/>
<rect x="389.6" y="4.1" width="6.8" height="1.7" fill="#4a8ab8"/>
<rect x="392.15" y="1.5" width="1.7" height="6.8" fill="#4a8ab8"/>
<line x1="425" y1="9" x2="430.3" y2="14" stroke="#c8a030" stroke-width="2.8"/>
<circle cx="421" cy="4.9" r="5.6" fill="#e0f4fc" stroke="#3a7ac8" stroke-width="1.4"/>
<rect x="417.6" y="4.1" width="6.8" height="1.7" fill="#4a8ab8"/>
<rect x="443" y="-1" width="8" height="8" fill="#30a020"/><rect x="451" y="-1" width="8" height="8" fill="#2050d0"/><rect x="443" y="7" width="8" height="8" fill="#2050d0"/><rect x="451" y="7" width="8" height="8" fill="#30a020"/>
<rect x="444.5" y="2.5" width="5" height="3" fill="#fff"/><rect x="452.5" y="2.5" width="5" height="3" fill="#fff"/><rect x="444.5" y="10.5" width="5" height="3" fill="#fff"/><rect x="452.5" y="10.5" width="5" height="3" fill="#fff"/>
<path d="M481.5,1 V15 M479,12.5 H492.5" stroke="#555" stroke-width="1.2" fill="none"/>
<path d="M479.8,3 L481.5,1 L483.2,3 M490.5,10.8 L492.5,12.5 L490.5,14.2" stroke="#555" stroke-width="1.1" fill="none"/>
<path d="M486.5,3 L486.5,9.6 L490.5,6.3 Z" fill="#70e070" stroke="#10a010" stroke-width="1"/>
<path d="M509.5,1 V15 M507,12.5 H520.5" stroke="#555" stroke-width="1.2" fill="none"/>
<path d="M507.8,3 L509.5,1 L511.2,3 M518.5,10.8 L520.5,12.5 L518.5,14.2" stroke="#555" stroke-width="1.1" fill="none"/>
<path d="M515.5,1 V10.6" stroke="#1a70b0" stroke-width="1.2"/><path d="M521,6.5 H517.5 M518.8,4.5 L516.5,6.5 L518.8,8.5" stroke="#e05010" stroke-width="1.4" fill="none"/>
<path d="M540.5,-2.5 H549 L552,0.5 V12.5 H540.5 Z" fill="#fafafa" stroke="#888"/>
<path d="M548,5.5 h3.5 v3.5 h3.8 v3.8 h-3.8 v3.6 h-3.5 v-3.6 h-3.6 v-3.8 h3.6 z" fill="#22d022" stroke="#0a8a0a" stroke-width="0.9"/>
<path d="M562,6 L567.5,6 L564.75,9.2 Z" fill="#000"/>
<path d="M601,6 L606.5,6 L603.75,9.2 Z" fill="#000"/>
<path d="M640,6 L645.5,6 L642.75,9.2 Z" fill="#000"/>
<path d="M946,6 L951.5,6 L948.75,9.2 Z" fill="#000"/>
<circle cx="586" cy="6.9" r="7.2" fill="#1a6ad0"/><circle cx="586" cy="6.9" r="5.4" fill="#f4f8fc"/><path d="M586,3 V7 H589" stroke="#333" stroke-width="0.9" fill="none"/>
<rect x="617.5" y="-1.5" width="15" height="15" fill="#fff" stroke="#2a6ad0" stroke-width="1.2"/><rect x="618" y="-1" width="14" height="2.5" fill="#7ab0e8"/><rect x="618" y="7.3" width="14" height="1" fill="#2a6ad0"/>
<path d="M619,5.6 L622,4.6 L625,5.4 L628,4.2 L631,4.6" stroke="#b02010" stroke-width="1.1" fill="none"/><path d="M619,11.5 L622,10.5 L625,11 L628,9.2 L631,11" stroke="#20a020" stroke-width="1.1" fill="none"/>
<path d="M669,-1 L669,12 L672,9 L675,14.3 L677.3,13.3 L674.5,8.3 L678,8.3 Z" fill="#505050"/>
<path d="M701.5,0 V6 M701.5,9 V15 M694,7.5 H700 M703,7.5 H709" stroke="#505050" stroke-width="1"/>
<rect x="735" y="1" width="1.2" height="12" fill="#505050"/>
<rect x="757" y="7" width="13" height="1.2" fill="#505050"/>
<line x1="786" y1="14" x2="798" y2="2" stroke="#505050" stroke-width="1.1"/>
<path d="M812,9 L823,0 M813,12 L824,3 M816,-1 L813,3 M820,-1 L817,3 M819,6 L816,10" stroke="#404040" stroke-width="1.1" fill="none"/>
<text x="822" y="15" font-size="7" fill="#404040" text-anchor="start" font-weight="bold" font-family="Liberation Sans, sans-serif" >E</text>
<path d="M841,0.5 H854" stroke="#505050" stroke-width="1" stroke-dasharray="1,1"/>
<path d="M841,3.5 H854" stroke="#505050" stroke-width="1" stroke-dasharray="1,1"/>
<path d="M841,6.5 H854" stroke="#505050" stroke-width="1" stroke-dasharray="1,1"/>
<path d="M841,9.5 H854" stroke="#505050" stroke-width="1" stroke-dasharray="1,1"/>
<text x="850" y="15" font-size="7" fill="#404040" text-anchor="start" font-weight="bold" font-family="Liberation Sans, sans-serif" >F</text>
<text x="871" y="13" font-size="11" fill="#505050" text-anchor="start" font-weight="bold" font-family="Liberation Sans, sans-serif" >A</text>
<rect x="897.5" y="-1.5" width="12" height="14" fill="none" stroke="#606060" stroke-dasharray="1,1"/>
<text x="899" y="11" font-size="11" fill="#505050" text-anchor="start" font-weight="bold" font-family="Liberation Sans, sans-serif" >T</text>
<path d="M927,3 L930,0 L933,3 L930,6 Z M934,12 L937,9 L940,12 L937,15 Z" fill="#404040"/><path d="M926,7 L930,11 L936,5" stroke="#404040" stroke-width="1.2" fill="none"/>
<text x="972" y="11" font-size="10" fill="#333" text-anchor="start" font-weight="normal" font-family="Liberation Sans, sans-serif" textLength="12" lengthAdjust="spacingAndGlyphs" >M1</text>
<text x="1000" y="11" font-size="10" fill="#333" text-anchor="start" font-weight="normal" font-family="Liberation Sans, sans-serif" textLength="13" lengthAdjust="spacingAndGlyphs" >M5</text>
<text x="1026" y="11" font-size="10" fill="#333" text-anchor="start" font-weight="normal" font-family="Liberation Sans, sans-serif" textLength="18" lengthAdjust="spacingAndGlyphs" >M15</text>
<text x="1054" y="11" font-size="10" fill="#333" text-anchor="start" font-weight="normal" font-family="Liberation Sans, sans-serif" textLength="18" lengthAdjust="spacingAndGlyphs" >M30</text>
<text x="1085" y="11" font-size="10" fill="#333" text-anchor="start" font-weight="normal" font-family="Liberation Sans, sans-serif" textLength="12" lengthAdjust="spacingAndGlyphs" >H1</text>
<text x="1112" y="11" font-size="10" fill="#333" text-anchor="start" font-weight="normal" font-family="Liberation Sans, sans-serif" textLength="13" lengthAdjust="spacingAndGlyphs" >H4</text>
<text x="1141" y="11" font-size="10" fill="#333" text-anchor="start" font-weight="normal" font-family="Liberation Sans, sans-serif" textLength="12" lengthAdjust="spacingAndGlyphs" >D1</text>
<text x="1169" y="11" font-size="10" fill="#333" text-anchor="start" font-weight="normal" font-family="Liberation Sans, sans-serif" textLength="15" lengthAdjust="spacingAndGlyphs" >W1</text>
<text x="1195" y="11" font-size="10" fill="#333" text-anchor="start" font-weight="normal" font-family="Liberation Sans, sans-serif" textLength="15" lengthAdjust="spacingAndGlyphs" >MN</text>
<circle cx="1688.5" cy="4.3" r="3.8" fill="none" stroke="#2a6ad8" stroke-width="1.4"/><line x1="1686" y1="7" x2="1681" y2="12" stroke="#2a6ad8" stroke-width="2"/>
<path d="M1706,9 C1706,5 1716,5 1716,9 C1716,13 1710,13 1709,13 L1707,16 L1708,12.5 C1706,12 1706,11 1706,9 Z" fill="#e6e6e6" stroke="#c8c8c8" stroke-width="0.8"/>
<circle cx="1719.5" cy="4.5" r="8" fill="#e03a20"/>
<text x="1719.5" y="9" font-size="11" fill="#fff" text-anchor="middle" font-weight="normal" font-family="Liberation Serif, serif" >1</text>
<path d="M78.9,-1.3 L79.2,-0.3 M77.0,0.3 L81.5,0.3 M77.8,1.1 L78.3,2.3 M80.7,1.1 L80.1,2.3 M76.8,3.1 L81.7,3.1 M77.0,5.1 L81.5,5.1 M79.2,3.3 L79.2,10.5 M79.2,5.7 L77.0,8.7 M79.5,5.9 L81.5,8.1 M86.2,-0.9 L82.9,0.3 M82.9,0.3 L82.9,5.7 L82.2,10.5 M82.9,3.9 L87.3,3.9 M85.3,3.9 L85.3,10.5" fill="none" stroke="#000" stroke-width="1.25" stroke-linecap="square"/>
<path d="M89.6,-0.5 L90.7,0.9 M89.0,3.1 L90.7,3.1 L90.7,8.7 L91.8,7.5 M92.9,-0.1 L99.3,-0.1 M96.4,-0.1 L96.4,9.9 L95.1,9.1" fill="none" stroke="#000" stroke-width="1.25" stroke-linecap="square"/>
<path d="M103.8,-1.5 L104.7,-0.1 M108.2,-1.5 L107.3,-0.1 M102.2,0.9 L109.8,0.9 L109.8,5.7 L102.2,5.7 L102.2,0.9 M102.2,3.3 L109.8,3.3 M106.0,0.9 L106.0,10.5 M100.5,7.7 L111.5,7.7" fill="none" stroke="#000" stroke-width="1.25" stroke-linecap="square"/>
<path d="M234.6,-1.5 L233.1,-0.1 M230.2,0.3 L237.8,0.3 L237.8,10.3 L230.2,10.3 L230.2,0.3 M230.2,3.5 L237.8,3.5 M230.2,6.9 L237.8,6.9" fill="none" stroke="#000" stroke-width="1.25" stroke-linecap="square"/>
<path d="M241.1,0.3 L245.1,0.3 M240.5,3.1 L245.7,3.1 M242.9,3.1 L241.1,8.1 L245.4,7.5 M244.3,5.9 L245.4,8.1 M246.0,2.7 L250.9,2.7 L250.4,9.9 L249.3,9.1 M248.4,-0.9 L248.2,4.5 L246.0,9.9" fill="none" stroke="#000" stroke-width="1.25" stroke-linecap="square"/>
<path d="M258.0,-1.5 L258.2,-0.3 M253.1,0.7 L262.9,0.7 M256.4,1.9 L254.2,3.9 M259.6,1.9 L262.2,3.9 M255.8,4.5 L262.4,10.5 M260.4,4.5 L253.6,10.5" fill="none" stroke="#000" stroke-width="1.25" stroke-linecap="square"/>
<path d="M266.9,-1.3 L273.1,-1.3 L273.1,3.9 L266.9,3.9 L266.9,-1.3 M266.9,1.4 L273.1,1.4 M267.8,4.7 L265.6,7.1 M267.2,5.7 L274.6,5.7 L273.9,10.5 L272.8,9.9 M269.4,5.9 L267.2,9.9 M272.0,5.9 L269.4,10.5" fill="none" stroke="#000" stroke-width="1.25" stroke-linecap="square"/>
<path d="M1505.5,146.5 L1501.3,151.2 M1503.3,148.8 L1509.6,148.8 L1502.2,156.0 M1503.8,151.2 L1506.3,153.2 M1508.0,155.1 L1503.0,160.2 M1505.5,157.5 L1512.6,157.5 L1499.7,165.5 M1505.5,160.2 L1508.0,162.1" fill="none" stroke="#00ff00" stroke-width="1.3" stroke-linecap="square"/>
<path d="M1527.8,146.5 L1528.1,148.4 M1520.4,151.8 L1520.4,149.3 L1535.1,149.3 L1534.4,151.8 M1525.7,152.2 L1522.5,155.6 M1529.5,152.2 L1533.3,155.6 M1522.5,157.5 L1533.0,157.5 M1527.8,157.5 L1527.8,164.0 M1519.9,164.0 L1535.6,164.0" fill="none" stroke="#00ff00" stroke-width="1.3" stroke-linecap="square"/>
<path d="M1541.3,150.3 L1548.1,150.3 M1544.7,146.5 L1542.4,156.9 L1547.8,156.9 M1545.2,153.2 L1545.2,165.5 M1541.3,160.8 L1548.7,160.2 M1549.8,150.3 L1557.2,150.3 M1549.5,154.5 L1557.7,154.5 M1553.8,146.5 L1551.2,158.3 L1556.6,158.3 L1552.9,162.7 M1553.2,162.1 L1555.5,165.1" fill="none" stroke="#00ff00" stroke-width="1.3" stroke-linecap="square"/>
<path d="M1563.3,152.2 L1569.5,152.2 M1566.7,146.5 L1566.7,164.6 L1565.0,163.2 M1563.3,159.8 L1569.8,156.9 M1578.6,147.4 L1572.3,149.9 M1572.3,149.9 L1572.3,157.9 L1571.2,165.5 M1572.3,155.1 L1579.7,155.1 M1576.6,155.1 L1576.6,165.5" fill="none" stroke="#00ff00" stroke-width="1.3" stroke-linecap="square"/>
<path d="M1593.6,146.5 L1593.6,156.0 M1593.6,150.7 L1599.8,150.7 M1589.1,153.7 L1599.8,153.7 L1599.8,159.4 L1589.1,159.4 L1589.1,153.7 M1587.6,161.7 L1586.4,165.1 M1591.8,162.1 L1592.3,165.1 M1596.2,162.1 L1597.1,165.1 M1600.7,161.7 L1602.5,165.1" fill="none" stroke="#00ff00" stroke-width="1.3" stroke-linecap="square"/>
<defs><linearGradient id="rg" x1="0" y1="0" x2="0" y2="1"><stop offset="0" stop-color="#f85656"/><stop offset="0.38" stop-color="#e23232"/><stop offset="1" stop-color="#b00000"/></linearGradient><linearGradient id="bg" x1="0" y1="0" x2="0" y2="1"><stop offset="0" stop-color="#f2f2f2"/><stop offset="0.45" stop-color="#e6e6e6"/><stop offset="0.5" stop-color="#d6d6d6"/><stop offset="1" stop-color="#cfcfcf"/></linearGradient></defs>
<rect x="53" y="43" width="117" height="24" fill="#fff"/>
<path d="M2,43 H54 V67 H111 V107 H2 Z" fill="url(#rg)"/>
<path d="M169,43 H221 V107 H113 V67 H169 Z" fill="url(#rg)"/>
<rect x="6" y="66" width="45" height="1" fill="#8a0000"/><rect x="173" y="66" width="45" height="1" fill="#8a0000"/>
<rect x="6" y="67" width="45" height="1" fill="#f06a6a" opacity="0.6"/><rect x="173" y="67" width="45" height="1" fill="#f06a6a" opacity="0.6"/>
<rect x="56.5" y="43.5" width="111" height="21" fill="#fff" stroke="#a8acb2" shape-rendering="crispEdges"/>
<rect x="57.5" y="44.5" width="20" height="19" fill="url(#bg)" stroke="#c4c8cc" shape-rendering="crispEdges"/>
<rect x="145.5" y="44.5" width="21" height="19" fill="url(#bg)" stroke="#c4c8cc" shape-rendering="crispEdges"/>
<path d="M64.5,52 L69.5,52 L67,55 Z" fill="#4a5ec8"/><path d="M153.5,55 L158.5,55 L156,52 Z" fill="#4a5ec8"/>
<text x="141.8" y="58" font-size="12.5" fill="#000" text-anchor="end" font-weight="normal" font-family="Liberation Sans, sans-serif" textLength="21" lengthAdjust="spacingAndGlyphs" >1.00</text>
<text x="14.5" y="59" font-size="12.5" fill="#fff" text-anchor="start" font-weight="normal" font-family="Liberation Sans, sans-serif" textLength="25" lengthAdjust="spacingAndGlyphs" >SELL</text>
<text x="182.7" y="59" font-size="12.5" fill="#fff" text-anchor="start" font-weight="normal" font-family="Liberation Sans, sans-serif" textLength="23" lengthAdjust="spacingAndGlyphs" >BUY</text>
<text x="18.3" y="98" font-size="12.5" fill="#fff" text-anchor="start" font-weight="bold" font-family="Liberation Sans, sans-serif" textLength="34" lengthAdjust="spacingAndGlyphs" >29196</text>
<circle cx="60" cy="96.5" r="2.3" fill="#fff"/>
<text x="63" y="98" font-size="36" fill="#fff" text-anchor="start" font-weight="normal" font-family="Liberation Serif, serif" >0</text>
<text x="128.2" y="98" font-size="12.5" fill="#fff" text-anchor="start" font-weight="bold" font-family="Liberation Sans, sans-serif" textLength="34" lengthAdjust="spacingAndGlyphs" >29219</text>
<circle cx="170.6" cy="96.5" r="2.3" fill="#fff"/>
<text x="173.6" y="98" font-size="36" fill="#fff" text-anchor="start" font-weight="normal" font-family="Liberation Serif, serif" >0</text>
<rect x="1732" y="21" width="1" height="923" fill="#e4e4e4"/>
</svg>
</body></html>
